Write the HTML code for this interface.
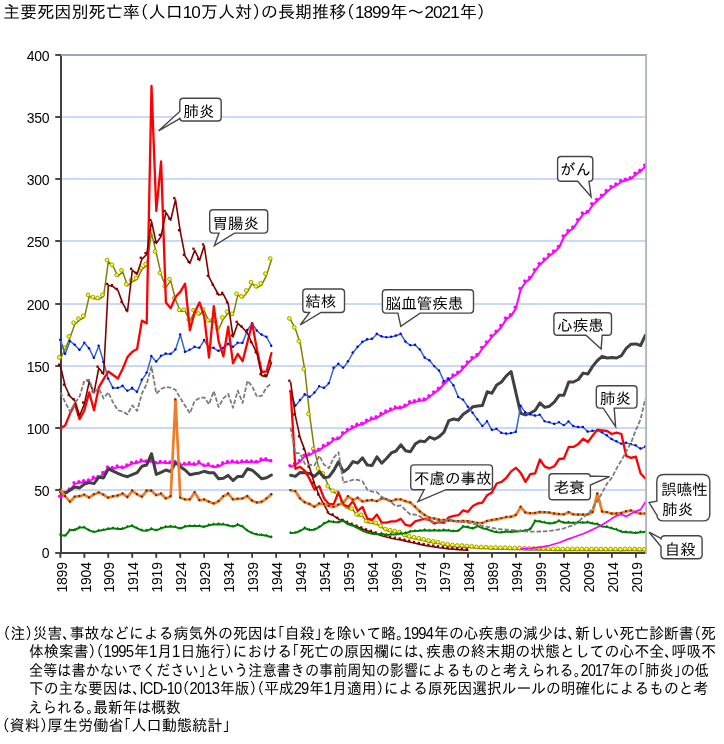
<!DOCTYPE html><html lang="ja"><head><meta charset="utf-8"><title>主要死因別死亡率の長期推移</title>
<style>html,body{margin:0;padding:0;background:#fff}
#wrap{position:relative;width:724px;height:744px;overflow:hidden;background:#fff;font-family:"Liberation Sans","IPAGothic","Noto Sans CJK JP",sans-serif;color:#000}
.o{margin-left:-0.5em}.c{margin-right:-0.5em}.d{letter-spacing:-0.055em;margin-right:0.055em}
.t{position:absolute;font-size:17px;line-height:20px;white-space:nowrap;transform-origin:0 0}
.n{position:absolute;font-size:15px;line-height:18px;white-space:nowrap;transform-origin:0 0}
</style></head><body><div id="wrap">
<svg width="724" height="744" viewBox="0 0 724 744" style="position:absolute;left:0;top:0">
<rect width="724" height="744" fill="#fff"/>
<line x1="61" y1="490.0" x2="646" y2="490.0" stroke="#c9d9fb" stroke-width="2"/>
<line x1="61" y1="428.0" x2="646" y2="428.0" stroke="#c9d9fb" stroke-width="2"/>
<line x1="61" y1="366.0" x2="646" y2="366.0" stroke="#c9d9fb" stroke-width="2"/>
<line x1="61" y1="304.0" x2="646" y2="304.0" stroke="#c9d9fb" stroke-width="2"/>
<line x1="61" y1="241.0" x2="646" y2="241.0" stroke="#c9d9fb" stroke-width="2"/>
<line x1="61" y1="179.0" x2="646" y2="179.0" stroke="#c9d9fb" stroke-width="2"/>
<line x1="61" y1="117.0" x2="646" y2="117.0" stroke="#c9d9fb" stroke-width="2"/>
<line x1="61" y1="54.0" x2="61" y2="554.0" stroke="#404040" stroke-width="2"/>
<line x1="60" y1="553" x2="646.5" y2="553" stroke="#404040" stroke-width="2"/>
<line x1="55.4" y1="553.0" x2="61" y2="553.0" stroke="#404040" stroke-width="1.6"/>
<line x1="55.4" y1="490.0" x2="61" y2="490.0" stroke="#404040" stroke-width="1.6"/>
<line x1="55.4" y1="428.0" x2="61" y2="428.0" stroke="#404040" stroke-width="1.6"/>
<line x1="55.4" y1="366.0" x2="61" y2="366.0" stroke="#404040" stroke-width="1.6"/>
<line x1="55.4" y1="304.0" x2="61" y2="304.0" stroke="#404040" stroke-width="1.6"/>
<line x1="55.4" y1="241.0" x2="61" y2="241.0" stroke="#404040" stroke-width="1.6"/>
<line x1="55.4" y1="179.0" x2="61" y2="179.0" stroke="#404040" stroke-width="1.6"/>
<line x1="55.4" y1="117.0" x2="61" y2="117.0" stroke="#404040" stroke-width="1.6"/>
<line x1="55.4" y1="55.0" x2="61" y2="55.0" stroke="#404040" stroke-width="1.6"/>
<line x1="60.4" y1="553.0" x2="60.4" y2="557.6" stroke="#404040" stroke-width="1.6"/>
<line x1="84.4" y1="553.0" x2="84.4" y2="557.6" stroke="#404040" stroke-width="1.6"/>
<line x1="108.3" y1="553.0" x2="108.3" y2="557.6" stroke="#404040" stroke-width="1.6"/>
<line x1="132.3" y1="553.0" x2="132.3" y2="557.6" stroke="#404040" stroke-width="1.6"/>
<line x1="156.3" y1="553.0" x2="156.3" y2="557.6" stroke="#404040" stroke-width="1.6"/>
<line x1="180.3" y1="553.0" x2="180.3" y2="557.6" stroke="#404040" stroke-width="1.6"/>
<line x1="204.2" y1="553.0" x2="204.2" y2="557.6" stroke="#404040" stroke-width="1.6"/>
<line x1="228.2" y1="553.0" x2="228.2" y2="557.6" stroke="#404040" stroke-width="1.6"/>
<line x1="252.2" y1="553.0" x2="252.2" y2="557.6" stroke="#404040" stroke-width="1.6"/>
<line x1="276.2" y1="553.0" x2="276.2" y2="557.6" stroke="#404040" stroke-width="1.6"/>
<line x1="300.1" y1="553.0" x2="300.1" y2="557.6" stroke="#404040" stroke-width="1.6"/>
<line x1="324.1" y1="553.0" x2="324.1" y2="557.6" stroke="#404040" stroke-width="1.6"/>
<line x1="348.1" y1="553.0" x2="348.1" y2="557.6" stroke="#404040" stroke-width="1.6"/>
<line x1="372.1" y1="553.0" x2="372.1" y2="557.6" stroke="#404040" stroke-width="1.6"/>
<line x1="396.0" y1="553.0" x2="396.0" y2="557.6" stroke="#404040" stroke-width="1.6"/>
<line x1="420.0" y1="553.0" x2="420.0" y2="557.6" stroke="#404040" stroke-width="1.6"/>
<line x1="444.0" y1="553.0" x2="444.0" y2="557.6" stroke="#404040" stroke-width="1.6"/>
<line x1="468.0" y1="553.0" x2="468.0" y2="557.6" stroke="#404040" stroke-width="1.6"/>
<line x1="491.9" y1="553.0" x2="491.9" y2="557.6" stroke="#404040" stroke-width="1.6"/>
<line x1="515.9" y1="553.0" x2="515.9" y2="557.6" stroke="#404040" stroke-width="1.6"/>
<line x1="539.9" y1="553.0" x2="539.9" y2="557.6" stroke="#404040" stroke-width="1.6"/>
<line x1="563.9" y1="553.0" x2="563.9" y2="557.6" stroke="#404040" stroke-width="1.6"/>
<line x1="587.9" y1="553.0" x2="587.9" y2="557.6" stroke="#404040" stroke-width="1.6"/>
<line x1="611.8" y1="553.0" x2="611.8" y2="557.6" stroke="#404040" stroke-width="1.6"/>
<line x1="635.8" y1="553.0" x2="635.8" y2="557.6" stroke="#404040" stroke-width="1.6"/>
<line x1="61" y1="54.0" x2="61" y2="554.0" stroke="#404040" stroke-width="2"/>
<line x1="60" y1="553" x2="646.5" y2="553" stroke="#404040" stroke-width="2"/>
<line x1="55.4" y1="553.0" x2="61" y2="553.0" stroke="#404040" stroke-width="1.6"/>
<line x1="55.4" y1="490.0" x2="61" y2="490.0" stroke="#404040" stroke-width="1.6"/>
<line x1="55.4" y1="428.0" x2="61" y2="428.0" stroke="#404040" stroke-width="1.6"/>
<line x1="55.4" y1="366.0" x2="61" y2="366.0" stroke="#404040" stroke-width="1.6"/>
<line x1="55.4" y1="304.0" x2="61" y2="304.0" stroke="#404040" stroke-width="1.6"/>
<line x1="55.4" y1="241.0" x2="61" y2="241.0" stroke="#404040" stroke-width="1.6"/>
<line x1="55.4" y1="179.0" x2="61" y2="179.0" stroke="#404040" stroke-width="1.6"/>
<line x1="55.4" y1="117.0" x2="61" y2="117.0" stroke="#404040" stroke-width="1.6"/>
<line x1="55.4" y1="55.0" x2="61" y2="55.0" stroke="#404040" stroke-width="1.6"/>
<line x1="60.4" y1="553.0" x2="60.4" y2="557.6" stroke="#404040" stroke-width="1.6"/>
<line x1="84.4" y1="553.0" x2="84.4" y2="557.6" stroke="#404040" stroke-width="1.6"/>
<line x1="108.3" y1="553.0" x2="108.3" y2="557.6" stroke="#404040" stroke-width="1.6"/>
<line x1="132.3" y1="553.0" x2="132.3" y2="557.6" stroke="#404040" stroke-width="1.6"/>
<line x1="156.3" y1="553.0" x2="156.3" y2="557.6" stroke="#404040" stroke-width="1.6"/>
<line x1="180.3" y1="553.0" x2="180.3" y2="557.6" stroke="#404040" stroke-width="1.6"/>
<line x1="204.2" y1="553.0" x2="204.2" y2="557.6" stroke="#404040" stroke-width="1.6"/>
<line x1="228.2" y1="553.0" x2="228.2" y2="557.6" stroke="#404040" stroke-width="1.6"/>
<line x1="252.2" y1="553.0" x2="252.2" y2="557.6" stroke="#404040" stroke-width="1.6"/>
<line x1="276.2" y1="553.0" x2="276.2" y2="557.6" stroke="#404040" stroke-width="1.6"/>
<line x1="300.1" y1="553.0" x2="300.1" y2="557.6" stroke="#404040" stroke-width="1.6"/>
<line x1="324.1" y1="553.0" x2="324.1" y2="557.6" stroke="#404040" stroke-width="1.6"/>
<line x1="348.1" y1="553.0" x2="348.1" y2="557.6" stroke="#404040" stroke-width="1.6"/>
<line x1="372.1" y1="553.0" x2="372.1" y2="557.6" stroke="#404040" stroke-width="1.6"/>
<line x1="396.0" y1="553.0" x2="396.0" y2="557.6" stroke="#404040" stroke-width="1.6"/>
<line x1="420.0" y1="553.0" x2="420.0" y2="557.6" stroke="#404040" stroke-width="1.6"/>
<line x1="444.0" y1="553.0" x2="444.0" y2="557.6" stroke="#404040" stroke-width="1.6"/>
<line x1="468.0" y1="553.0" x2="468.0" y2="557.6" stroke="#404040" stroke-width="1.6"/>
<line x1="491.9" y1="553.0" x2="491.9" y2="557.6" stroke="#404040" stroke-width="1.6"/>
<line x1="515.9" y1="553.0" x2="515.9" y2="557.6" stroke="#404040" stroke-width="1.6"/>
<line x1="539.9" y1="553.0" x2="539.9" y2="557.6" stroke="#404040" stroke-width="1.6"/>
<line x1="563.9" y1="553.0" x2="563.9" y2="557.6" stroke="#404040" stroke-width="1.6"/>
<line x1="587.9" y1="553.0" x2="587.9" y2="557.6" stroke="#404040" stroke-width="1.6"/>
<line x1="611.8" y1="553.0" x2="611.8" y2="557.6" stroke="#404040" stroke-width="1.6"/>
<line x1="635.8" y1="553.0" x2="635.8" y2="557.6" stroke="#404040" stroke-width="1.6"/>
<polyline points="60.4,358.9 65.2,349.0 70.0,337.8 74.8,324.2 79.6,320.1 84.4,317.4 89.2,296.4 94.0,298.6 98.8,299.4 103.6,296.3 108.3,261.6 113.1,266.3 117.9,276.4 122.7,271.8 127.5,285.7 132.3,281.7 137.1,279.4 141.9,269.4 146.7,265.6 151.5,232.9 156.3,253.0 161.1,274.4 165.9,287.7 170.7,280.6 175.5,299.5 180.3,311.3 185.1,311.2 189.9,321.1 194.7,311.7 199.5,314.9 204.2,310.6 209.0,321.8 213.8,321.0 218.6,329.5 223.4,318.9 228.2,313.2 233.0,315.3 237.8,295.2 242.6,297.9 247.4,291.9 252.2,283.6 257.0,287.8 261.8,284.8 266.6,275.1 271.4,260.0" fill="none" stroke="#808000" stroke-width="1.5" stroke-linejoin="round" stroke-linecap="round" />
<circle cx="59.2" cy="357.4" r="1.9" fill="#ffff00" stroke="#8c8c00" stroke-width="0.8"/><circle cx="64.0" cy="347.5" r="1.9" fill="#ffff00" stroke="#8c8c00" stroke-width="0.8"/><circle cx="68.8" cy="336.3" r="1.9" fill="#ffff00" stroke="#8c8c00" stroke-width="0.8"/><circle cx="73.6" cy="322.7" r="1.9" fill="#ffff00" stroke="#8c8c00" stroke-width="0.8"/><circle cx="78.4" cy="318.6" r="1.9" fill="#ffff00" stroke="#8c8c00" stroke-width="0.8"/><circle cx="83.2" cy="315.9" r="1.9" fill="#ffff00" stroke="#8c8c00" stroke-width="0.8"/><circle cx="88.0" cy="294.9" r="1.9" fill="#ffff00" stroke="#8c8c00" stroke-width="0.8"/><circle cx="92.8" cy="297.1" r="1.9" fill="#ffff00" stroke="#8c8c00" stroke-width="0.8"/><circle cx="97.6" cy="297.9" r="1.9" fill="#ffff00" stroke="#8c8c00" stroke-width="0.8"/><circle cx="102.4" cy="294.8" r="1.9" fill="#ffff00" stroke="#8c8c00" stroke-width="0.8"/><circle cx="107.1" cy="260.1" r="1.9" fill="#ffff00" stroke="#8c8c00" stroke-width="0.8"/><circle cx="111.9" cy="264.8" r="1.9" fill="#ffff00" stroke="#8c8c00" stroke-width="0.8"/><circle cx="116.7" cy="274.9" r="1.9" fill="#ffff00" stroke="#8c8c00" stroke-width="0.8"/><circle cx="121.5" cy="270.3" r="1.9" fill="#ffff00" stroke="#8c8c00" stroke-width="0.8"/><circle cx="126.3" cy="284.2" r="1.9" fill="#ffff00" stroke="#8c8c00" stroke-width="0.8"/><circle cx="131.1" cy="280.2" r="1.9" fill="#ffff00" stroke="#8c8c00" stroke-width="0.8"/><circle cx="135.9" cy="277.9" r="1.9" fill="#ffff00" stroke="#8c8c00" stroke-width="0.8"/><circle cx="140.7" cy="267.9" r="1.9" fill="#ffff00" stroke="#8c8c00" stroke-width="0.8"/><circle cx="145.5" cy="264.1" r="1.9" fill="#ffff00" stroke="#8c8c00" stroke-width="0.8"/><circle cx="150.3" cy="231.4" r="1.9" fill="#ffff00" stroke="#8c8c00" stroke-width="0.8"/><circle cx="155.1" cy="251.5" r="1.9" fill="#ffff00" stroke="#8c8c00" stroke-width="0.8"/><circle cx="159.9" cy="272.9" r="1.9" fill="#ffff00" stroke="#8c8c00" stroke-width="0.8"/><circle cx="164.7" cy="286.2" r="1.9" fill="#ffff00" stroke="#8c8c00" stroke-width="0.8"/><circle cx="169.5" cy="279.1" r="1.9" fill="#ffff00" stroke="#8c8c00" stroke-width="0.8"/><circle cx="174.3" cy="298.0" r="1.9" fill="#ffff00" stroke="#8c8c00" stroke-width="0.8"/><circle cx="179.1" cy="309.8" r="1.9" fill="#ffff00" stroke="#8c8c00" stroke-width="0.8"/><circle cx="183.9" cy="309.7" r="1.9" fill="#ffff00" stroke="#8c8c00" stroke-width="0.8"/><circle cx="188.7" cy="319.6" r="1.9" fill="#ffff00" stroke="#8c8c00" stroke-width="0.8"/><circle cx="193.5" cy="310.2" r="1.9" fill="#ffff00" stroke="#8c8c00" stroke-width="0.8"/><circle cx="198.3" cy="313.4" r="1.9" fill="#ffff00" stroke="#8c8c00" stroke-width="0.8"/><circle cx="203.1" cy="309.1" r="1.9" fill="#ffff00" stroke="#8c8c00" stroke-width="0.8"/><circle cx="207.8" cy="320.3" r="1.9" fill="#ffff00" stroke="#8c8c00" stroke-width="0.8"/><circle cx="212.6" cy="319.5" r="1.9" fill="#ffff00" stroke="#8c8c00" stroke-width="0.8"/><circle cx="217.4" cy="328.0" r="1.9" fill="#ffff00" stroke="#8c8c00" stroke-width="0.8"/><circle cx="222.2" cy="317.4" r="1.9" fill="#ffff00" stroke="#8c8c00" stroke-width="0.8"/><circle cx="227.0" cy="311.7" r="1.9" fill="#ffff00" stroke="#8c8c00" stroke-width="0.8"/><circle cx="231.8" cy="313.8" r="1.9" fill="#ffff00" stroke="#8c8c00" stroke-width="0.8"/><circle cx="236.6" cy="293.7" r="1.9" fill="#ffff00" stroke="#8c8c00" stroke-width="0.8"/><circle cx="241.4" cy="296.4" r="1.9" fill="#ffff00" stroke="#8c8c00" stroke-width="0.8"/><circle cx="246.2" cy="290.4" r="1.9" fill="#ffff00" stroke="#8c8c00" stroke-width="0.8"/><circle cx="251.0" cy="282.1" r="1.9" fill="#ffff00" stroke="#8c8c00" stroke-width="0.8"/><circle cx="255.8" cy="286.3" r="1.9" fill="#ffff00" stroke="#8c8c00" stroke-width="0.8"/><circle cx="260.6" cy="283.3" r="1.9" fill="#ffff00" stroke="#8c8c00" stroke-width="0.8"/><circle cx="265.4" cy="273.6" r="1.9" fill="#ffff00" stroke="#8c8c00" stroke-width="0.8"/><circle cx="270.2" cy="258.5" r="1.9" fill="#ffff00" stroke="#8c8c00" stroke-width="0.8"/>
<polyline points="290.6,319.9 295.4,328.9 300.1,342.7 304.9,370.6 309.7,415.5 314.5,450.4 319.3,469.9 324.1,475.0 328.9,487.6 333.7,492.2 338.5,494.3 343.3,503.6 348.1,508.5 352.9,510.1 357.7,515.8 362.5,516.2 367.3,522.5 372.1,523.3 376.9,524.3 381.7,527.4 386.5,530.5 391.3,531.7 396.0,532.6 400.8,533.5 405.6,536.4 410.4,537.8 415.2,538.8 420.0,539.7 424.8,540.8 429.6,542.0 434.4,542.9 439.2,543.6 444.0,545.1 448.8,545.8 453.6,546.5 458.4,547.0 463.2,547.0 468.0,547.5 472.8,547.8 477.6,548.4 482.4,548.5 487.2,548.6 491.9,549.0 496.7,548.9 501.5,549.2 506.3,549.2 511.1,549.4 515.9,549.5 520.7,549.4 525.5,549.7 530.3,549.9 535.1,549.9 539.9,549.7 544.7,550.0 549.5,550.1 554.3,550.4 559.1,550.2 563.9,550.4 568.7,550.4 573.5,550.4 578.3,550.5 583.1,550.4 587.9,550.5 592.6,550.5 597.4,550.5 602.2,550.5 607.0,550.5 611.8,550.5 616.6,550.6 621.4,550.7 626.2,550.4 631.0,550.4 635.8,550.5 640.6,550.7 645.4,550.7" fill="none" stroke="#808000" stroke-width="1.5" stroke-linejoin="round" stroke-linecap="round" />
<circle cx="289.4" cy="318.4" r="1.9" fill="#ffff00" stroke="#8c8c00" stroke-width="0.8"/><circle cx="294.2" cy="327.4" r="1.9" fill="#ffff00" stroke="#8c8c00" stroke-width="0.8"/><circle cx="298.9" cy="341.2" r="1.9" fill="#ffff00" stroke="#8c8c00" stroke-width="0.8"/><circle cx="303.7" cy="369.1" r="1.9" fill="#ffff00" stroke="#8c8c00" stroke-width="0.8"/><circle cx="308.5" cy="414.0" r="1.9" fill="#ffff00" stroke="#8c8c00" stroke-width="0.8"/><circle cx="313.3" cy="448.9" r="1.9" fill="#ffff00" stroke="#8c8c00" stroke-width="0.8"/><circle cx="318.1" cy="468.4" r="1.9" fill="#ffff00" stroke="#8c8c00" stroke-width="0.8"/><circle cx="322.9" cy="473.5" r="1.9" fill="#ffff00" stroke="#8c8c00" stroke-width="0.8"/><circle cx="327.7" cy="486.1" r="1.9" fill="#ffff00" stroke="#8c8c00" stroke-width="0.8"/><circle cx="332.5" cy="490.7" r="1.9" fill="#ffff00" stroke="#8c8c00" stroke-width="0.8"/><circle cx="337.3" cy="492.8" r="1.9" fill="#ffff00" stroke="#8c8c00" stroke-width="0.8"/><circle cx="342.1" cy="502.1" r="1.9" fill="#ffff00" stroke="#8c8c00" stroke-width="0.8"/><circle cx="346.9" cy="507.0" r="1.9" fill="#ffff00" stroke="#8c8c00" stroke-width="0.8"/><circle cx="351.7" cy="508.6" r="1.9" fill="#ffff00" stroke="#8c8c00" stroke-width="0.8"/><circle cx="356.5" cy="514.3" r="1.9" fill="#ffff00" stroke="#8c8c00" stroke-width="0.8"/><circle cx="361.3" cy="514.7" r="1.9" fill="#ffff00" stroke="#8c8c00" stroke-width="0.8"/><circle cx="366.1" cy="521.0" r="1.9" fill="#ffff00" stroke="#8c8c00" stroke-width="0.8"/><circle cx="370.9" cy="521.8" r="1.9" fill="#ffff00" stroke="#8c8c00" stroke-width="0.8"/><circle cx="375.7" cy="522.8" r="1.9" fill="#ffff00" stroke="#8c8c00" stroke-width="0.8"/><circle cx="380.5" cy="525.9" r="1.9" fill="#ffff00" stroke="#8c8c00" stroke-width="0.8"/><circle cx="385.3" cy="529.0" r="1.9" fill="#ffff00" stroke="#8c8c00" stroke-width="0.8"/><circle cx="390.1" cy="530.2" r="1.9" fill="#ffff00" stroke="#8c8c00" stroke-width="0.8"/><circle cx="394.8" cy="531.1" r="1.9" fill="#ffff00" stroke="#8c8c00" stroke-width="0.8"/><circle cx="399.6" cy="532.0" r="1.9" fill="#ffff00" stroke="#8c8c00" stroke-width="0.8"/><circle cx="404.4" cy="534.9" r="1.9" fill="#ffff00" stroke="#8c8c00" stroke-width="0.8"/><circle cx="409.2" cy="536.3" r="1.9" fill="#ffff00" stroke="#8c8c00" stroke-width="0.8"/><circle cx="414.0" cy="537.3" r="1.9" fill="#ffff00" stroke="#8c8c00" stroke-width="0.8"/><circle cx="418.8" cy="538.2" r="1.9" fill="#ffff00" stroke="#8c8c00" stroke-width="0.8"/><circle cx="423.6" cy="539.3" r="1.9" fill="#ffff00" stroke="#8c8c00" stroke-width="0.8"/><circle cx="428.4" cy="540.5" r="1.9" fill="#ffff00" stroke="#8c8c00" stroke-width="0.8"/><circle cx="433.2" cy="541.4" r="1.9" fill="#ffff00" stroke="#8c8c00" stroke-width="0.8"/><circle cx="438.0" cy="542.1" r="1.9" fill="#ffff00" stroke="#8c8c00" stroke-width="0.8"/><circle cx="442.8" cy="543.6" r="1.9" fill="#ffff00" stroke="#8c8c00" stroke-width="0.8"/><circle cx="447.6" cy="544.3" r="1.9" fill="#ffff00" stroke="#8c8c00" stroke-width="0.8"/><circle cx="452.4" cy="545.0" r="1.9" fill="#ffff00" stroke="#8c8c00" stroke-width="0.8"/><circle cx="457.2" cy="545.5" r="1.9" fill="#ffff00" stroke="#8c8c00" stroke-width="0.8"/><circle cx="462.0" cy="545.5" r="1.9" fill="#ffff00" stroke="#8c8c00" stroke-width="0.8"/><circle cx="466.8" cy="546.0" r="1.9" fill="#ffff00" stroke="#8c8c00" stroke-width="0.8"/><circle cx="471.6" cy="546.3" r="1.9" fill="#ffff00" stroke="#8c8c00" stroke-width="0.8"/><circle cx="476.4" cy="546.9" r="1.9" fill="#ffff00" stroke="#8c8c00" stroke-width="0.8"/><circle cx="481.2" cy="547.0" r="1.9" fill="#ffff00" stroke="#8c8c00" stroke-width="0.8"/><circle cx="486.0" cy="547.1" r="1.9" fill="#ffff00" stroke="#8c8c00" stroke-width="0.8"/><circle cx="490.8" cy="547.5" r="1.9" fill="#ffff00" stroke="#8c8c00" stroke-width="0.8"/><circle cx="495.5" cy="547.4" r="1.9" fill="#ffff00" stroke="#8c8c00" stroke-width="0.8"/><circle cx="500.3" cy="547.7" r="1.9" fill="#ffff00" stroke="#8c8c00" stroke-width="0.8"/><circle cx="505.1" cy="547.7" r="1.9" fill="#ffff00" stroke="#8c8c00" stroke-width="0.8"/><circle cx="509.9" cy="547.9" r="1.9" fill="#ffff00" stroke="#8c8c00" stroke-width="0.8"/><circle cx="514.7" cy="548.0" r="1.9" fill="#ffff00" stroke="#8c8c00" stroke-width="0.8"/><circle cx="519.5" cy="547.9" r="1.9" fill="#ffff00" stroke="#8c8c00" stroke-width="0.8"/><circle cx="524.3" cy="548.2" r="1.9" fill="#ffff00" stroke="#8c8c00" stroke-width="0.8"/><circle cx="529.1" cy="548.4" r="1.9" fill="#ffff00" stroke="#8c8c00" stroke-width="0.8"/><circle cx="533.9" cy="548.4" r="1.9" fill="#ffff00" stroke="#8c8c00" stroke-width="0.8"/><circle cx="538.7" cy="548.2" r="1.9" fill="#ffff00" stroke="#8c8c00" stroke-width="0.8"/><circle cx="543.5" cy="548.5" r="1.9" fill="#ffff00" stroke="#8c8c00" stroke-width="0.8"/><circle cx="548.3" cy="548.6" r="1.9" fill="#ffff00" stroke="#8c8c00" stroke-width="0.8"/><circle cx="553.1" cy="548.9" r="1.9" fill="#ffff00" stroke="#8c8c00" stroke-width="0.8"/><circle cx="557.9" cy="548.7" r="1.9" fill="#ffff00" stroke="#8c8c00" stroke-width="0.8"/><circle cx="562.7" cy="548.9" r="1.9" fill="#ffff00" stroke="#8c8c00" stroke-width="0.8"/><circle cx="567.5" cy="548.9" r="1.9" fill="#ffff00" stroke="#8c8c00" stroke-width="0.8"/><circle cx="572.3" cy="548.9" r="1.9" fill="#ffff00" stroke="#8c8c00" stroke-width="0.8"/><circle cx="577.1" cy="549.0" r="1.9" fill="#ffff00" stroke="#8c8c00" stroke-width="0.8"/><circle cx="581.9" cy="548.9" r="1.9" fill="#ffff00" stroke="#8c8c00" stroke-width="0.8"/><circle cx="586.6" cy="549.0" r="1.9" fill="#ffff00" stroke="#8c8c00" stroke-width="0.8"/><circle cx="591.4" cy="549.0" r="1.9" fill="#ffff00" stroke="#8c8c00" stroke-width="0.8"/><circle cx="596.2" cy="549.0" r="1.9" fill="#ffff00" stroke="#8c8c00" stroke-width="0.8"/><circle cx="601.0" cy="549.0" r="1.9" fill="#ffff00" stroke="#8c8c00" stroke-width="0.8"/><circle cx="605.8" cy="549.0" r="1.9" fill="#ffff00" stroke="#8c8c00" stroke-width="0.8"/><circle cx="610.6" cy="549.0" r="1.9" fill="#ffff00" stroke="#8c8c00" stroke-width="0.8"/><circle cx="615.4" cy="549.1" r="1.9" fill="#ffff00" stroke="#8c8c00" stroke-width="0.8"/><circle cx="620.2" cy="549.2" r="1.9" fill="#ffff00" stroke="#8c8c00" stroke-width="0.8"/><circle cx="625.0" cy="548.9" r="1.9" fill="#ffff00" stroke="#8c8c00" stroke-width="0.8"/><circle cx="629.8" cy="548.9" r="1.9" fill="#ffff00" stroke="#8c8c00" stroke-width="0.8"/><circle cx="634.6" cy="549.0" r="1.9" fill="#ffff00" stroke="#8c8c00" stroke-width="0.8"/><circle cx="639.4" cy="549.2" r="1.9" fill="#ffff00" stroke="#8c8c00" stroke-width="0.8"/><circle cx="644.2" cy="549.2" r="1.9" fill="#ffff00" stroke="#8c8c00" stroke-width="0.8"/>
<polyline points="60.4,497.4 65.2,493.6 70.0,490.1 74.8,483.9 79.6,482.8 84.4,481.9 89.2,481.1 94.0,478.4 98.8,477.7 103.6,473.6 108.3,468.0 113.1,468.7 117.9,467.1 122.7,468.0 127.5,466.0 132.3,463.5 137.1,462.9 141.9,461.1 146.7,462.1 151.5,461.6 156.3,463.5 161.1,462.5 165.9,462.9 170.7,463.2 175.5,462.5 180.3,464.9 185.1,464.6 189.9,463.9 194.7,464.9 199.5,462.9 204.2,466.0 209.0,465.2 213.8,467.3 218.6,466.6 223.4,463.9 228.2,462.7 233.0,462.1 237.8,462.9 242.6,462.1 247.4,462.1 252.2,462.1 257.0,462.5 261.8,460.1 266.6,459.8 271.4,461.5" fill="none" stroke="#ff00ff" stroke-width="2.0" stroke-linejoin="round" stroke-linecap="round" />
<circle cx="59.6" cy="496.2" r="1.65" fill="#ff00ff"/><circle cx="64.4" cy="492.4" r="1.65" fill="#ff00ff"/><circle cx="69.2" cy="488.9" r="1.65" fill="#ff00ff"/><circle cx="74.0" cy="482.7" r="1.65" fill="#ff00ff"/><circle cx="78.8" cy="481.6" r="1.65" fill="#ff00ff"/><circle cx="83.6" cy="480.7" r="1.65" fill="#ff00ff"/><circle cx="88.4" cy="479.9" r="1.65" fill="#ff00ff"/><circle cx="93.2" cy="477.2" r="1.65" fill="#ff00ff"/><circle cx="98.0" cy="476.5" r="1.65" fill="#ff00ff"/><circle cx="102.8" cy="472.4" r="1.65" fill="#ff00ff"/><circle cx="107.5" cy="466.8" r="1.65" fill="#ff00ff"/><circle cx="112.3" cy="467.5" r="1.65" fill="#ff00ff"/><circle cx="117.1" cy="465.9" r="1.65" fill="#ff00ff"/><circle cx="121.9" cy="466.8" r="1.65" fill="#ff00ff"/><circle cx="126.7" cy="464.8" r="1.65" fill="#ff00ff"/><circle cx="131.5" cy="462.3" r="1.65" fill="#ff00ff"/><circle cx="136.3" cy="461.7" r="1.65" fill="#ff00ff"/><circle cx="141.1" cy="459.9" r="1.65" fill="#ff00ff"/><circle cx="145.9" cy="460.9" r="1.65" fill="#ff00ff"/><circle cx="150.7" cy="460.4" r="1.65" fill="#ff00ff"/><circle cx="155.5" cy="462.3" r="1.65" fill="#ff00ff"/><circle cx="160.3" cy="461.3" r="1.65" fill="#ff00ff"/><circle cx="165.1" cy="461.7" r="1.65" fill="#ff00ff"/><circle cx="169.9" cy="462.0" r="1.65" fill="#ff00ff"/><circle cx="174.7" cy="461.3" r="1.65" fill="#ff00ff"/><circle cx="179.5" cy="463.7" r="1.65" fill="#ff00ff"/><circle cx="184.3" cy="463.4" r="1.65" fill="#ff00ff"/><circle cx="189.1" cy="462.7" r="1.65" fill="#ff00ff"/><circle cx="193.9" cy="463.7" r="1.65" fill="#ff00ff"/><circle cx="198.7" cy="461.7" r="1.65" fill="#ff00ff"/><circle cx="203.4" cy="464.8" r="1.65" fill="#ff00ff"/><circle cx="208.2" cy="464.0" r="1.65" fill="#ff00ff"/><circle cx="213.0" cy="466.1" r="1.65" fill="#ff00ff"/><circle cx="217.8" cy="465.4" r="1.65" fill="#ff00ff"/><circle cx="222.6" cy="462.7" r="1.65" fill="#ff00ff"/><circle cx="227.4" cy="461.5" r="1.65" fill="#ff00ff"/><circle cx="232.2" cy="460.9" r="1.65" fill="#ff00ff"/><circle cx="237.0" cy="461.7" r="1.65" fill="#ff00ff"/><circle cx="241.8" cy="460.9" r="1.65" fill="#ff00ff"/><circle cx="246.6" cy="460.9" r="1.65" fill="#ff00ff"/><circle cx="251.4" cy="460.9" r="1.65" fill="#ff00ff"/><circle cx="256.2" cy="461.3" r="1.65" fill="#ff00ff"/><circle cx="261.0" cy="458.9" r="1.65" fill="#ff00ff"/><circle cx="265.8" cy="458.6" r="1.65" fill="#ff00ff"/><circle cx="270.6" cy="460.3" r="1.65" fill="#ff00ff"/>
<polyline points="290.6,466.8 295.4,464.6 300.1,461.6 304.9,456.4 309.7,455.0 314.5,452.0 319.3,450.4 324.1,446.6 328.9,444.3 333.7,439.8 338.5,439.1 343.3,433.9 348.1,430.5 352.9,427.8 357.7,425.4 362.5,424.3 367.3,421.4 372.1,419.2 376.9,417.8 381.7,414.7 386.5,412.1 391.3,410.1 396.0,408.1 400.8,408.0 405.6,406.3 410.4,402.9 415.2,401.9 420.0,400.7 424.8,400.2 429.6,396.8 434.4,393.0 439.2,389.4 444.0,383.9 448.8,379.7 453.6,376.1 458.4,373.3 463.2,368.2 468.0,363.0 472.8,358.5 477.6,355.6 482.4,348.5 487.2,343.2 491.9,336.8 496.7,332.3 501.5,326.7 506.3,319.1 511.1,315.9 515.9,308.4 520.7,289.5 525.5,282.2 530.3,278.6 535.1,270.8 539.9,264.7 544.7,260.2 549.5,255.7 554.3,252.1 559.1,247.5 563.9,237.0 568.7,231.5 573.5,228.1 578.3,220.8 583.1,214.1 587.9,212.6 592.6,204.9 597.4,200.5 602.2,196.3 607.0,191.7 611.8,187.7 616.6,185.2 621.4,181.8 626.2,180.3 631.0,178.8 635.8,174.4 640.6,171.4 645.4,166.3" fill="none" stroke="#ff00ff" stroke-width="2.0" stroke-linejoin="round" stroke-linecap="round" />
<circle cx="289.8" cy="465.6" r="1.65" fill="#ff00ff"/><circle cx="294.6" cy="463.4" r="1.65" fill="#ff00ff"/><circle cx="299.3" cy="460.4" r="1.65" fill="#ff00ff"/><circle cx="304.1" cy="455.2" r="1.65" fill="#ff00ff"/><circle cx="308.9" cy="453.8" r="1.65" fill="#ff00ff"/><circle cx="313.7" cy="450.8" r="1.65" fill="#ff00ff"/><circle cx="318.5" cy="449.2" r="1.65" fill="#ff00ff"/><circle cx="323.3" cy="445.4" r="1.65" fill="#ff00ff"/><circle cx="328.1" cy="443.1" r="1.65" fill="#ff00ff"/><circle cx="332.9" cy="438.6" r="1.65" fill="#ff00ff"/><circle cx="337.7" cy="437.9" r="1.65" fill="#ff00ff"/><circle cx="342.5" cy="432.7" r="1.65" fill="#ff00ff"/><circle cx="347.3" cy="429.3" r="1.65" fill="#ff00ff"/><circle cx="352.1" cy="426.6" r="1.65" fill="#ff00ff"/><circle cx="356.9" cy="424.2" r="1.65" fill="#ff00ff"/><circle cx="361.7" cy="423.1" r="1.65" fill="#ff00ff"/><circle cx="366.5" cy="420.2" r="1.65" fill="#ff00ff"/><circle cx="371.3" cy="418.0" r="1.65" fill="#ff00ff"/><circle cx="376.1" cy="416.6" r="1.65" fill="#ff00ff"/><circle cx="380.9" cy="413.5" r="1.65" fill="#ff00ff"/><circle cx="385.7" cy="410.9" r="1.65" fill="#ff00ff"/><circle cx="390.5" cy="408.9" r="1.65" fill="#ff00ff"/><circle cx="395.2" cy="406.9" r="1.65" fill="#ff00ff"/><circle cx="400.0" cy="406.8" r="1.65" fill="#ff00ff"/><circle cx="404.8" cy="405.1" r="1.65" fill="#ff00ff"/><circle cx="409.6" cy="401.7" r="1.65" fill="#ff00ff"/><circle cx="414.4" cy="400.7" r="1.65" fill="#ff00ff"/><circle cx="419.2" cy="399.5" r="1.65" fill="#ff00ff"/><circle cx="424.0" cy="399.0" r="1.65" fill="#ff00ff"/><circle cx="428.8" cy="395.6" r="1.65" fill="#ff00ff"/><circle cx="433.6" cy="391.8" r="1.65" fill="#ff00ff"/><circle cx="438.4" cy="388.2" r="1.65" fill="#ff00ff"/><circle cx="443.2" cy="382.7" r="1.65" fill="#ff00ff"/><circle cx="448.0" cy="378.5" r="1.65" fill="#ff00ff"/><circle cx="452.8" cy="374.9" r="1.65" fill="#ff00ff"/><circle cx="457.6" cy="372.1" r="1.65" fill="#ff00ff"/><circle cx="462.4" cy="367.0" r="1.65" fill="#ff00ff"/><circle cx="467.2" cy="361.8" r="1.65" fill="#ff00ff"/><circle cx="472.0" cy="357.3" r="1.65" fill="#ff00ff"/><circle cx="476.8" cy="354.4" r="1.65" fill="#ff00ff"/><circle cx="481.6" cy="347.3" r="1.65" fill="#ff00ff"/><circle cx="486.4" cy="342.0" r="1.65" fill="#ff00ff"/><circle cx="491.1" cy="335.6" r="1.65" fill="#ff00ff"/><circle cx="495.9" cy="331.1" r="1.65" fill="#ff00ff"/><circle cx="500.7" cy="325.5" r="1.65" fill="#ff00ff"/><circle cx="505.5" cy="317.9" r="1.65" fill="#ff00ff"/><circle cx="510.3" cy="314.7" r="1.65" fill="#ff00ff"/><circle cx="515.1" cy="307.2" r="1.65" fill="#ff00ff"/><circle cx="519.9" cy="288.3" r="1.65" fill="#ff00ff"/><circle cx="524.7" cy="281.0" r="1.65" fill="#ff00ff"/><circle cx="529.5" cy="277.4" r="1.65" fill="#ff00ff"/><circle cx="534.3" cy="269.6" r="1.65" fill="#ff00ff"/><circle cx="539.1" cy="263.5" r="1.65" fill="#ff00ff"/><circle cx="543.9" cy="259.0" r="1.65" fill="#ff00ff"/><circle cx="548.7" cy="254.5" r="1.65" fill="#ff00ff"/><circle cx="553.5" cy="250.9" r="1.65" fill="#ff00ff"/><circle cx="558.3" cy="246.3" r="1.65" fill="#ff00ff"/><circle cx="563.1" cy="235.8" r="1.65" fill="#ff00ff"/><circle cx="567.9" cy="230.3" r="1.65" fill="#ff00ff"/><circle cx="572.7" cy="226.9" r="1.65" fill="#ff00ff"/><circle cx="577.5" cy="219.6" r="1.65" fill="#ff00ff"/><circle cx="582.3" cy="212.9" r="1.65" fill="#ff00ff"/><circle cx="587.1" cy="211.4" r="1.65" fill="#ff00ff"/><circle cx="591.8" cy="203.7" r="1.65" fill="#ff00ff"/><circle cx="596.6" cy="199.3" r="1.65" fill="#ff00ff"/><circle cx="601.4" cy="195.1" r="1.65" fill="#ff00ff"/><circle cx="606.2" cy="190.5" r="1.65" fill="#ff00ff"/><circle cx="611.0" cy="186.5" r="1.65" fill="#ff00ff"/><circle cx="615.8" cy="184.0" r="1.65" fill="#ff00ff"/><circle cx="620.6" cy="180.6" r="1.65" fill="#ff00ff"/><circle cx="625.4" cy="179.1" r="1.65" fill="#ff00ff"/><circle cx="630.2" cy="177.6" r="1.65" fill="#ff00ff"/><circle cx="635.0" cy="173.2" r="1.65" fill="#ff00ff"/><circle cx="639.8" cy="170.2" r="1.65" fill="#ff00ff"/><circle cx="644.6" cy="165.1" r="1.65" fill="#ff00ff"/>
<polyline points="60.4,492.1 65.2,493.1 70.0,490.3 74.8,487.1 79.6,487.9 84.4,484.1 89.2,482.6 94.0,483.6 98.8,477.2 103.6,477.9 108.3,468.8 113.1,471.2 117.9,473.4 122.7,475.4 127.5,476.7 132.3,474.7 137.1,472.6 141.9,466.3 146.7,465.0 151.5,453.7 156.3,474.4 161.1,472.3 165.9,470.0 170.7,471.6 175.5,462.6 180.3,466.7 185.1,470.0 189.9,474.7 194.7,473.7 199.5,472.9 204.2,471.3 209.0,472.7 213.8,472.7 218.6,478.8 223.4,478.3 228.2,475.4 233.0,480.6 237.8,476.4 242.6,476.4 247.4,468.8 252.2,470.2 257.0,474.4 261.8,478.8 266.6,477.8 271.4,475.0" fill="none" stroke="#404040" stroke-width="3.0" stroke-linejoin="round" stroke-linecap="round" />
<polyline points="290.6,475.3 295.4,476.4 300.1,472.4 304.9,472.8 309.7,473.5 314.5,476.4 319.3,471.8 324.1,477.8 328.9,476.9 333.7,470.5 338.5,461.7 343.3,472.0 348.1,468.4 352.9,461.6 357.7,463.0 362.5,457.9 367.3,465.1 372.1,465.5 376.9,456.9 381.7,463.2 386.5,458.5 391.3,452.9 396.0,451.0 400.8,444.8 405.6,450.7 410.4,451.7 415.2,444.1 420.0,441.0 424.8,441.7 429.6,437.0 434.4,439.2 439.2,436.6 444.0,432.1 448.8,420.6 453.6,419.0 458.4,420.0 463.2,414.2 468.0,411.0 472.8,406.8 477.6,406.0 482.4,405.4 487.2,391.7 491.9,393.3 496.7,385.0 501.5,382.0 506.3,375.8 511.1,371.6 515.9,392.7 520.7,413.4 525.5,414.9 530.3,413.1 535.1,410.5 539.9,402.9 544.7,407.4 549.5,406.2 554.3,402.2 559.1,395.3 563.9,395.3 568.7,382.0 573.5,382.0 578.3,379.5 583.1,373.1 587.9,374.0 592.6,366.4 597.4,360.5 602.2,356.3 607.0,358.0 611.8,357.4 616.6,358.0 621.4,355.7 626.2,348.3 631.0,344.2 635.8,343.9 640.6,345.5 645.4,335.2" fill="none" stroke="#404040" stroke-width="3.0" stroke-linejoin="round" stroke-linecap="round" />
<polyline points="60.4,340.0 65.2,354.0 70.0,341.2 74.8,344.9 79.6,350.1 84.4,342.9 89.2,348.6 94.0,358.1 98.8,345.9 103.6,362.3 108.3,378.9 113.1,388.1 117.9,388.1 122.7,386.0 127.5,390.9 132.3,388.1 137.1,392.0 141.9,380.1 146.7,372.9 151.5,356.3 156.3,361.7 161.1,356.0 165.9,353.8 170.7,354.1 175.5,349.7 180.3,334.7 185.1,352.0 189.9,349.9 194.7,346.9 199.5,347.9 204.2,340.2 209.0,348.0 213.8,348.1 218.6,351.1 223.4,348.1 228.2,344.0 233.0,347.0 237.8,342.9 242.6,343.0 247.4,330.2 252.2,323.5 257.0,330.8 261.8,334.8 266.6,337.1 271.4,346.0" fill="none" stroke="#3068c8" stroke-width="1.5" stroke-linejoin="round" stroke-linecap="round" />
<circle cx="60.2" cy="339.7" r="1.2" fill="#0000ff"/><circle cx="65.0" cy="353.7" r="1.2" fill="#0000ff"/><circle cx="69.8" cy="340.9" r="1.2" fill="#0000ff"/><circle cx="74.6" cy="344.6" r="1.2" fill="#0000ff"/><circle cx="79.4" cy="349.8" r="1.2" fill="#0000ff"/><circle cx="84.2" cy="342.6" r="1.2" fill="#0000ff"/><circle cx="89.0" cy="348.3" r="1.2" fill="#0000ff"/><circle cx="93.8" cy="357.8" r="1.2" fill="#0000ff"/><circle cx="98.6" cy="345.6" r="1.2" fill="#0000ff"/><circle cx="103.4" cy="362.0" r="1.2" fill="#0000ff"/><circle cx="108.1" cy="378.6" r="1.2" fill="#0000ff"/><circle cx="112.9" cy="387.8" r="1.2" fill="#0000ff"/><circle cx="117.7" cy="387.8" r="1.2" fill="#0000ff"/><circle cx="122.5" cy="385.7" r="1.2" fill="#0000ff"/><circle cx="127.3" cy="390.6" r="1.2" fill="#0000ff"/><circle cx="132.1" cy="387.8" r="1.2" fill="#0000ff"/><circle cx="136.9" cy="391.7" r="1.2" fill="#0000ff"/><circle cx="141.7" cy="379.8" r="1.2" fill="#0000ff"/><circle cx="146.5" cy="372.6" r="1.2" fill="#0000ff"/><circle cx="151.3" cy="356.0" r="1.2" fill="#0000ff"/><circle cx="156.1" cy="361.4" r="1.2" fill="#0000ff"/><circle cx="160.9" cy="355.7" r="1.2" fill="#0000ff"/><circle cx="165.7" cy="353.5" r="1.2" fill="#0000ff"/><circle cx="170.5" cy="353.8" r="1.2" fill="#0000ff"/><circle cx="175.3" cy="349.4" r="1.2" fill="#0000ff"/><circle cx="180.1" cy="334.4" r="1.2" fill="#0000ff"/><circle cx="184.9" cy="351.7" r="1.2" fill="#0000ff"/><circle cx="189.7" cy="349.6" r="1.2" fill="#0000ff"/><circle cx="194.5" cy="346.6" r="1.2" fill="#0000ff"/><circle cx="199.3" cy="347.6" r="1.2" fill="#0000ff"/><circle cx="204.1" cy="339.9" r="1.2" fill="#0000ff"/><circle cx="208.8" cy="347.7" r="1.2" fill="#0000ff"/><circle cx="213.6" cy="347.8" r="1.2" fill="#0000ff"/><circle cx="218.4" cy="350.8" r="1.2" fill="#0000ff"/><circle cx="223.2" cy="347.8" r="1.2" fill="#0000ff"/><circle cx="228.0" cy="343.7" r="1.2" fill="#0000ff"/><circle cx="232.8" cy="346.7" r="1.2" fill="#0000ff"/><circle cx="237.6" cy="342.6" r="1.2" fill="#0000ff"/><circle cx="242.4" cy="342.7" r="1.2" fill="#0000ff"/><circle cx="247.2" cy="329.9" r="1.2" fill="#0000ff"/><circle cx="252.0" cy="323.2" r="1.2" fill="#0000ff"/><circle cx="256.8" cy="330.5" r="1.2" fill="#0000ff"/><circle cx="261.6" cy="334.5" r="1.2" fill="#0000ff"/><circle cx="266.4" cy="336.8" r="1.2" fill="#0000ff"/><circle cx="271.2" cy="345.7" r="1.2" fill="#0000ff"/>
<polyline points="290.6,391.7 295.4,406.0 300.1,400.2 304.9,394.6 309.7,397.0 314.5,392.8 319.3,386.4 324.1,388.0 328.9,383.4 333.7,368.1 338.5,364.0 343.3,367.9 348.1,361.5 352.9,352.8 357.7,347.0 362.5,342.0 367.3,339.5 372.1,339.1 376.9,334.0 381.7,336.5 386.5,337.4 391.3,336.9 396.0,335.8 400.8,334.0 405.6,341.8 410.4,345.4 415.2,345.1 420.0,349.7 424.8,357.8 429.6,360.5 434.4,366.4 439.2,370.8 444.0,381.4 448.8,379.2 453.6,385.6 458.4,397.2 463.2,399.9 468.0,406.9 472.8,413.1 477.6,419.7 482.4,426.2 487.2,421.4 491.9,430.1 496.7,429.0 501.5,433.0 506.3,433.8 511.1,433.3 515.9,432.1 520.7,406.0 525.5,412.6 530.3,414.6 535.1,415.8 539.9,414.9 544.7,421.4 549.5,422.4 554.3,424.1 559.1,422.4 563.9,425.4 568.7,421.7 573.5,426.2 578.3,427.3 583.1,427.2 587.9,431.8 592.6,431.1 597.4,430.5 602.2,432.6 607.0,435.6 611.8,439.3 616.6,441.5 621.4,443.9 626.2,442.9 631.0,444.3 635.8,445.6 640.6,448.8 645.4,446.7" fill="none" stroke="#3068c8" stroke-width="1.5" stroke-linejoin="round" stroke-linecap="round" />
<circle cx="290.4" cy="391.4" r="1.2" fill="#0000ff"/><circle cx="295.2" cy="405.7" r="1.2" fill="#0000ff"/><circle cx="299.9" cy="399.9" r="1.2" fill="#0000ff"/><circle cx="304.7" cy="394.3" r="1.2" fill="#0000ff"/><circle cx="309.5" cy="396.7" r="1.2" fill="#0000ff"/><circle cx="314.3" cy="392.5" r="1.2" fill="#0000ff"/><circle cx="319.1" cy="386.1" r="1.2" fill="#0000ff"/><circle cx="323.9" cy="387.7" r="1.2" fill="#0000ff"/><circle cx="328.7" cy="383.1" r="1.2" fill="#0000ff"/><circle cx="333.5" cy="367.8" r="1.2" fill="#0000ff"/><circle cx="338.3" cy="363.7" r="1.2" fill="#0000ff"/><circle cx="343.1" cy="367.6" r="1.2" fill="#0000ff"/><circle cx="347.9" cy="361.2" r="1.2" fill="#0000ff"/><circle cx="352.7" cy="352.5" r="1.2" fill="#0000ff"/><circle cx="357.5" cy="346.7" r="1.2" fill="#0000ff"/><circle cx="362.3" cy="341.7" r="1.2" fill="#0000ff"/><circle cx="367.1" cy="339.2" r="1.2" fill="#0000ff"/><circle cx="371.9" cy="338.8" r="1.2" fill="#0000ff"/><circle cx="376.7" cy="333.7" r="1.2" fill="#0000ff"/><circle cx="381.5" cy="336.2" r="1.2" fill="#0000ff"/><circle cx="386.3" cy="337.1" r="1.2" fill="#0000ff"/><circle cx="391.1" cy="336.6" r="1.2" fill="#0000ff"/><circle cx="395.8" cy="335.5" r="1.2" fill="#0000ff"/><circle cx="400.6" cy="333.7" r="1.2" fill="#0000ff"/><circle cx="405.4" cy="341.5" r="1.2" fill="#0000ff"/><circle cx="410.2" cy="345.1" r="1.2" fill="#0000ff"/><circle cx="415.0" cy="344.8" r="1.2" fill="#0000ff"/><circle cx="419.8" cy="349.4" r="1.2" fill="#0000ff"/><circle cx="424.6" cy="357.5" r="1.2" fill="#0000ff"/><circle cx="429.4" cy="360.2" r="1.2" fill="#0000ff"/><circle cx="434.2" cy="366.1" r="1.2" fill="#0000ff"/><circle cx="439.0" cy="370.5" r="1.2" fill="#0000ff"/><circle cx="443.8" cy="381.1" r="1.2" fill="#0000ff"/><circle cx="448.6" cy="378.9" r="1.2" fill="#0000ff"/><circle cx="453.4" cy="385.3" r="1.2" fill="#0000ff"/><circle cx="458.2" cy="396.9" r="1.2" fill="#0000ff"/><circle cx="463.0" cy="399.6" r="1.2" fill="#0000ff"/><circle cx="467.8" cy="406.6" r="1.2" fill="#0000ff"/><circle cx="472.6" cy="412.8" r="1.2" fill="#0000ff"/><circle cx="477.4" cy="419.4" r="1.2" fill="#0000ff"/><circle cx="482.2" cy="425.9" r="1.2" fill="#0000ff"/><circle cx="487.0" cy="421.1" r="1.2" fill="#0000ff"/><circle cx="491.8" cy="429.8" r="1.2" fill="#0000ff"/><circle cx="496.5" cy="428.7" r="1.2" fill="#0000ff"/><circle cx="501.3" cy="432.7" r="1.2" fill="#0000ff"/><circle cx="506.1" cy="433.5" r="1.2" fill="#0000ff"/><circle cx="510.9" cy="433.0" r="1.2" fill="#0000ff"/><circle cx="515.7" cy="431.8" r="1.2" fill="#0000ff"/><circle cx="520.5" cy="405.7" r="1.2" fill="#0000ff"/><circle cx="525.3" cy="412.3" r="1.2" fill="#0000ff"/><circle cx="530.1" cy="414.3" r="1.2" fill="#0000ff"/><circle cx="534.9" cy="415.5" r="1.2" fill="#0000ff"/><circle cx="539.7" cy="414.6" r="1.2" fill="#0000ff"/><circle cx="544.5" cy="421.1" r="1.2" fill="#0000ff"/><circle cx="549.3" cy="422.1" r="1.2" fill="#0000ff"/><circle cx="554.1" cy="423.8" r="1.2" fill="#0000ff"/><circle cx="558.9" cy="422.1" r="1.2" fill="#0000ff"/><circle cx="563.7" cy="425.1" r="1.2" fill="#0000ff"/><circle cx="568.5" cy="421.4" r="1.2" fill="#0000ff"/><circle cx="573.3" cy="425.9" r="1.2" fill="#0000ff"/><circle cx="578.1" cy="427.0" r="1.2" fill="#0000ff"/><circle cx="582.9" cy="426.9" r="1.2" fill="#0000ff"/><circle cx="587.6" cy="431.5" r="1.2" fill="#0000ff"/><circle cx="592.4" cy="430.8" r="1.2" fill="#0000ff"/><circle cx="597.2" cy="430.2" r="1.2" fill="#0000ff"/><circle cx="602.0" cy="432.3" r="1.2" fill="#0000ff"/><circle cx="606.8" cy="435.3" r="1.2" fill="#0000ff"/><circle cx="611.6" cy="439.0" r="1.2" fill="#0000ff"/><circle cx="616.4" cy="441.2" r="1.2" fill="#0000ff"/><circle cx="621.2" cy="443.6" r="1.2" fill="#0000ff"/><circle cx="626.0" cy="442.6" r="1.2" fill="#0000ff"/><circle cx="630.8" cy="444.0" r="1.2" fill="#0000ff"/><circle cx="635.6" cy="445.3" r="1.2" fill="#0000ff"/><circle cx="640.4" cy="448.5" r="1.2" fill="#0000ff"/><circle cx="645.2" cy="446.4" r="1.2" fill="#0000ff"/>
<polyline points="60.4,428.2 65.2,425.4 70.0,413.6 74.8,403.9 79.6,419.2 84.4,410.2 89.2,392.3 94.0,410.2 98.8,387.4 103.6,379.1 108.3,371.5 113.1,375.0 117.9,378.5 122.7,368.8 127.5,357.1 132.3,351.7 137.1,349.0 141.9,320.6 146.7,323.4 151.5,85.8 156.3,211.0 161.1,161.3 165.9,302.6 170.7,308.2 175.5,297.1 180.3,291.8 185.1,283.7 189.9,330.3 194.7,312.3 199.5,302.4 204.2,316.3 209.0,357.7 213.8,306.1 218.6,341.2 223.4,356.4 228.2,326.6 233.0,363.3 237.8,353.8 242.6,361.2 247.4,342.4 252.2,323.5 257.0,349.9 261.8,372.0 266.6,371.4 271.4,353.2" fill="none" stroke="#ff0000" stroke-width="2.3" stroke-linejoin="round" stroke-linecap="round" />
<polyline points="290.6,390.8 295.4,468.8 300.1,466.8 304.9,470.9 309.7,479.2 314.5,489.6 319.3,486.1 324.1,498.5 328.9,504.1 333.7,504.1 338.5,492.3 343.3,504.8 348.1,506.9 352.9,501.3 357.7,511.0 362.5,506.9 367.3,518.6 372.1,519.9 376.9,514.5 381.7,522.7 386.5,522.7 391.3,521.3 396.0,521.3 400.8,518.9 405.6,524.9 410.4,525.9 415.2,521.4 420.0,520.0 424.8,518.9 429.6,520.0 434.4,523.5 439.2,522.1 444.0,522.8 448.8,517.3 453.6,515.9 458.4,515.2 463.2,510.3 468.0,511.8 472.8,506.0 477.6,503.5 482.4,502.7 487.2,495.2 491.9,492.4 496.7,483.5 501.5,481.9 506.3,477.8 511.1,471.4 515.9,467.8 520.7,472.9 525.5,481.9 530.3,474.2 535.1,473.3 539.9,459.5 544.7,466.6 549.5,468.3 554.3,466.3 559.1,459.0 563.9,458.5 568.7,446.9 573.5,446.9 578.3,443.9 583.1,438.7 587.9,442.0 592.6,435.6 597.4,429.6 602.2,430.3 607.0,431.0 611.8,434.0 616.6,432.6 621.4,434.0 626.2,456.0 631.0,457.9 635.8,456.6 640.6,473.5 645.4,478.5" fill="none" stroke="#ff0000" stroke-width="2.3" stroke-linejoin="round" stroke-linecap="round" />
<polyline points="60.4,366.0 65.2,386.0 70.0,396.4 74.8,400.6 79.6,415.7 84.4,403.9 89.2,381.9 94.0,392.9 98.8,368.0 103.6,374.2 108.3,285.3 113.1,286.6 117.9,290.3 122.7,303.4 127.5,311.6 132.3,270.2 137.1,274.3 141.9,259.1 146.7,254.5 151.5,221.3 156.3,243.4 161.1,236.2 165.9,212.4 170.7,220.2 175.5,199.6 180.3,231.6 185.1,256.1 189.9,263.3 194.7,250.2 199.5,260.5 204.2,245.8 209.0,277.1 213.8,286.1 218.6,295.0 223.4,294.3 228.2,303.7 233.0,336.9 237.8,323.3 242.6,327.7 247.4,333.0 252.2,343.5 257.0,353.7 261.8,375.6 266.6,376.6 271.4,362.8" fill="none" stroke="#800000" stroke-width="1.6" stroke-linejoin="round" stroke-linecap="round" />
<rect x="58.0" y="363.5" width="2.3" height="2.3" fill="#800000"/><rect x="62.8" y="383.5" width="2.3" height="2.3" fill="#800000"/><rect x="67.6" y="393.8" width="2.3" height="2.3" fill="#800000"/><rect x="72.4" y="398.0" width="2.3" height="2.3" fill="#800000"/><rect x="77.2" y="413.2" width="2.3" height="2.3" fill="#800000"/><rect x="82.0" y="401.4" width="2.3" height="2.3" fill="#800000"/><rect x="86.8" y="379.4" width="2.3" height="2.3" fill="#800000"/><rect x="91.6" y="390.3" width="2.3" height="2.3" fill="#800000"/><rect x="96.4" y="365.5" width="2.3" height="2.3" fill="#800000"/><rect x="101.2" y="371.7" width="2.3" height="2.3" fill="#800000"/><rect x="106.0" y="282.8" width="2.3" height="2.3" fill="#800000"/><rect x="110.8" y="284.0" width="2.3" height="2.3" fill="#800000"/><rect x="115.6" y="287.8" width="2.3" height="2.3" fill="#800000"/><rect x="120.4" y="300.8" width="2.3" height="2.3" fill="#800000"/><rect x="125.2" y="309.0" width="2.3" height="2.3" fill="#800000"/><rect x="130.0" y="267.6" width="2.3" height="2.3" fill="#800000"/><rect x="134.8" y="271.7" width="2.3" height="2.3" fill="#800000"/><rect x="139.6" y="256.6" width="2.3" height="2.3" fill="#800000"/><rect x="144.4" y="252.0" width="2.3" height="2.3" fill="#800000"/><rect x="149.2" y="218.8" width="2.3" height="2.3" fill="#800000"/><rect x="154.0" y="240.9" width="2.3" height="2.3" fill="#800000"/><rect x="158.7" y="233.7" width="2.3" height="2.3" fill="#800000"/><rect x="163.5" y="209.8" width="2.3" height="2.3" fill="#800000"/><rect x="168.3" y="217.6" width="2.3" height="2.3" fill="#800000"/><rect x="173.1" y="197.0" width="2.3" height="2.3" fill="#800000"/><rect x="177.9" y="229.1" width="2.3" height="2.3" fill="#800000"/><rect x="182.7" y="253.6" width="2.3" height="2.3" fill="#800000"/><rect x="187.5" y="260.8" width="2.3" height="2.3" fill="#800000"/><rect x="192.3" y="247.6" width="2.3" height="2.3" fill="#800000"/><rect x="197.1" y="257.9" width="2.3" height="2.3" fill="#800000"/><rect x="201.9" y="243.3" width="2.3" height="2.3" fill="#800000"/><rect x="206.7" y="274.6" width="2.3" height="2.3" fill="#800000"/><rect x="211.5" y="283.5" width="2.3" height="2.3" fill="#800000"/><rect x="216.3" y="292.5" width="2.3" height="2.3" fill="#800000"/><rect x="221.1" y="291.7" width="2.3" height="2.3" fill="#800000"/><rect x="225.9" y="301.2" width="2.3" height="2.3" fill="#800000"/><rect x="230.7" y="334.4" width="2.3" height="2.3" fill="#800000"/><rect x="235.5" y="320.7" width="2.3" height="2.3" fill="#800000"/><rect x="240.3" y="325.2" width="2.3" height="2.3" fill="#800000"/><rect x="245.1" y="330.4" width="2.3" height="2.3" fill="#800000"/><rect x="249.9" y="341.0" width="2.3" height="2.3" fill="#800000"/><rect x="254.6" y="351.2" width="2.3" height="2.3" fill="#800000"/><rect x="259.4" y="373.0" width="2.3" height="2.3" fill="#800000"/><rect x="264.2" y="374.0" width="2.3" height="2.3" fill="#800000"/><rect x="269.0" y="360.2" width="2.3" height="2.3" fill="#800000"/>
<polyline points="290.6,382.2 295.4,415.9 300.1,437.6 304.9,450.4 309.7,468.1 314.5,484.0 319.3,495.8 324.1,504.8 328.9,513.7 333.7,515.8 338.5,519.2 343.3,521.3 348.1,523.3 352.9,525.2 357.7,527.0 362.5,528.9 367.3,530.7 372.1,532.2 376.9,533.9 381.7,535.7 386.5,537.0 391.3,538.2 396.0,539.2 400.8,539.9 405.6,541.1 410.4,542.2 415.2,543.3 420.0,544.4 424.8,545.4 429.6,546.2 434.4,546.9 439.2,547.7 444.0,548.3 448.8,548.9 453.6,549.3 458.4,549.6 463.2,550.0 468.0,550.3" fill="none" stroke="#800000" stroke-width="1.6" stroke-linejoin="round" stroke-linecap="round" />
<rect x="288.2" y="379.6" width="2.3" height="2.3" fill="#800000"/><rect x="293.0" y="413.3" width="2.3" height="2.3" fill="#800000"/><rect x="297.8" y="435.1" width="2.3" height="2.3" fill="#800000"/><rect x="302.6" y="447.9" width="2.3" height="2.3" fill="#800000"/><rect x="307.4" y="465.5" width="2.3" height="2.3" fill="#800000"/><rect x="312.2" y="481.5" width="2.3" height="2.3" fill="#800000"/><rect x="317.0" y="493.3" width="2.3" height="2.3" fill="#800000"/><rect x="321.8" y="502.2" width="2.3" height="2.3" fill="#800000"/><rect x="326.6" y="511.2" width="2.3" height="2.3" fill="#800000"/><rect x="331.4" y="513.3" width="2.3" height="2.3" fill="#800000"/><rect x="336.2" y="516.6" width="2.3" height="2.3" fill="#800000"/><rect x="341.0" y="518.7" width="2.3" height="2.3" fill="#800000"/><rect x="345.8" y="520.7" width="2.3" height="2.3" fill="#800000"/><rect x="350.5" y="522.6" width="2.3" height="2.3" fill="#800000"/><rect x="355.3" y="524.5" width="2.3" height="2.3" fill="#800000"/><rect x="360.1" y="526.3" width="2.3" height="2.3" fill="#800000"/><rect x="364.9" y="528.2" width="2.3" height="2.3" fill="#800000"/><rect x="369.7" y="529.7" width="2.3" height="2.3" fill="#800000"/><rect x="374.5" y="531.3" width="2.3" height="2.3" fill="#800000"/><rect x="379.3" y="533.2" width="2.3" height="2.3" fill="#800000"/><rect x="384.1" y="534.4" width="2.3" height="2.3" fill="#800000"/><rect x="388.9" y="535.7" width="2.3" height="2.3" fill="#800000"/><rect x="393.7" y="536.6" width="2.3" height="2.3" fill="#800000"/><rect x="398.5" y="537.4" width="2.3" height="2.3" fill="#800000"/><rect x="403.3" y="538.5" width="2.3" height="2.3" fill="#800000"/><rect x="408.1" y="539.6" width="2.3" height="2.3" fill="#800000"/><rect x="412.9" y="540.8" width="2.3" height="2.3" fill="#800000"/><rect x="417.7" y="541.9" width="2.3" height="2.3" fill="#800000"/><rect x="422.5" y="542.9" width="2.3" height="2.3" fill="#800000"/><rect x="427.3" y="543.6" width="2.3" height="2.3" fill="#800000"/><rect x="432.1" y="544.4" width="2.3" height="2.3" fill="#800000"/><rect x="436.9" y="545.1" width="2.3" height="2.3" fill="#800000"/><rect x="441.7" y="545.7" width="2.3" height="2.3" fill="#800000"/><rect x="446.4" y="546.3" width="2.3" height="2.3" fill="#800000"/><rect x="451.2" y="546.7" width="2.3" height="2.3" fill="#800000"/><rect x="456.0" y="547.1" width="2.3" height="2.3" fill="#800000"/><rect x="460.8" y="547.5" width="2.3" height="2.3" fill="#800000"/><rect x="465.6" y="547.7" width="2.3" height="2.3" fill="#800000"/>
<polyline points="60.4,489.6 65.2,496.4 70.0,501.8 74.8,496.8 79.6,496.2 84.4,494.8 89.2,497.6 94.0,494.4 98.8,492.6 103.6,494.8 108.3,497.8 113.1,496.4 117.9,495.6 122.7,493.7 127.5,497.2 132.3,490.7 137.1,494.4 141.9,496.8 146.7,490.7 151.5,490.7 156.3,495.3 161.1,493.7 165.9,498.5 170.7,496.4 175.5,399.6 180.3,497.8 185.1,499.5 189.9,499.5 194.7,492.3 199.5,500.3 204.2,499.5 209.0,501.8 213.8,503.6 218.6,501.3 223.4,496.4 228.2,493.7 233.0,499.5 237.8,498.9 242.6,498.5 247.4,496.2 252.2,500.7 257.0,502.6 261.8,501.8 266.6,498.5 271.4,494.4" fill="none" stroke="#f07c28" stroke-width="2.7" stroke-linejoin="round" stroke-linecap="round" />
<circle cx="60.2" cy="489.4" r="1.15" fill="#6b2a00"/><circle cx="65.0" cy="496.2" r="1.15" fill="#6b2a00"/><circle cx="69.8" cy="501.6" r="1.15" fill="#6b2a00"/><circle cx="74.6" cy="496.6" r="1.15" fill="#6b2a00"/><circle cx="79.4" cy="496.0" r="1.15" fill="#6b2a00"/><circle cx="84.2" cy="494.6" r="1.15" fill="#6b2a00"/><circle cx="89.0" cy="497.4" r="1.15" fill="#6b2a00"/><circle cx="93.8" cy="494.2" r="1.15" fill="#6b2a00"/><circle cx="98.6" cy="492.4" r="1.15" fill="#6b2a00"/><circle cx="103.4" cy="494.6" r="1.15" fill="#6b2a00"/><circle cx="108.1" cy="497.6" r="1.15" fill="#6b2a00"/><circle cx="112.9" cy="496.2" r="1.15" fill="#6b2a00"/><circle cx="117.7" cy="495.4" r="1.15" fill="#6b2a00"/><circle cx="122.5" cy="493.5" r="1.15" fill="#6b2a00"/><circle cx="127.3" cy="497.0" r="1.15" fill="#6b2a00"/><circle cx="132.1" cy="490.5" r="1.15" fill="#6b2a00"/><circle cx="136.9" cy="494.2" r="1.15" fill="#6b2a00"/><circle cx="141.7" cy="496.6" r="1.15" fill="#6b2a00"/><circle cx="146.5" cy="490.5" r="1.15" fill="#6b2a00"/><circle cx="151.3" cy="490.5" r="1.15" fill="#6b2a00"/><circle cx="156.1" cy="495.1" r="1.15" fill="#6b2a00"/><circle cx="160.9" cy="493.5" r="1.15" fill="#6b2a00"/><circle cx="165.7" cy="498.3" r="1.15" fill="#6b2a00"/><circle cx="170.5" cy="496.2" r="1.15" fill="#6b2a00"/><circle cx="175.3" cy="399.4" r="1.15" fill="#6b2a00"/><circle cx="180.1" cy="497.6" r="1.15" fill="#6b2a00"/><circle cx="184.9" cy="499.3" r="1.15" fill="#6b2a00"/><circle cx="189.7" cy="499.3" r="1.15" fill="#6b2a00"/><circle cx="194.5" cy="492.1" r="1.15" fill="#6b2a00"/><circle cx="199.3" cy="500.1" r="1.15" fill="#6b2a00"/><circle cx="204.1" cy="499.3" r="1.15" fill="#6b2a00"/><circle cx="208.8" cy="501.6" r="1.15" fill="#6b2a00"/><circle cx="213.6" cy="503.4" r="1.15" fill="#6b2a00"/><circle cx="218.4" cy="501.1" r="1.15" fill="#6b2a00"/><circle cx="223.2" cy="496.2" r="1.15" fill="#6b2a00"/><circle cx="228.0" cy="493.5" r="1.15" fill="#6b2a00"/><circle cx="232.8" cy="499.3" r="1.15" fill="#6b2a00"/><circle cx="237.6" cy="498.7" r="1.15" fill="#6b2a00"/><circle cx="242.4" cy="498.3" r="1.15" fill="#6b2a00"/><circle cx="247.2" cy="496.0" r="1.15" fill="#6b2a00"/><circle cx="252.0" cy="500.5" r="1.15" fill="#6b2a00"/><circle cx="256.8" cy="502.4" r="1.15" fill="#6b2a00"/><circle cx="261.6" cy="501.6" r="1.15" fill="#6b2a00"/><circle cx="266.4" cy="498.3" r="1.15" fill="#6b2a00"/><circle cx="271.2" cy="494.2" r="1.15" fill="#6b2a00"/>
<polyline points="290.6,490.3 295.4,491.3 300.1,498.5 304.9,502.4 309.7,504.1 314.5,506.9 319.3,503.6 324.1,504.1 328.9,506.1 333.7,506.9 338.5,504.8 343.3,503.0 348.1,496.4 352.9,499.9 357.7,497.9 362.5,501.5 367.3,500.7 372.1,500.2 376.9,501.3 381.7,498.5 386.5,499.3 391.3,501.3 396.0,499.5 400.8,499.5 405.6,501.3 410.4,502.6 415.2,506.9 420.0,511.7 424.8,515.1 429.6,517.9 434.4,518.6 439.2,519.9 444.0,520.2 448.8,520.7 453.6,521.0 458.4,521.3 463.2,521.0 468.0,521.3 472.8,522.0 477.6,523.0 482.4,523.0 487.2,521.0 491.9,520.2 496.7,519.3 501.5,518.3 506.3,517.2 511.1,516.9 515.9,515.1 520.7,506.9 525.5,512.7 530.3,513.3 535.1,513.1 539.9,512.1 544.7,512.3 549.5,512.7 554.3,513.7 559.1,514.2 563.9,514.5 568.7,512.3 573.5,514.5 578.3,514.7 583.1,514.7 587.9,514.5 592.6,512.3 597.4,493.7 602.2,511.7 607.0,512.3 611.8,513.7 616.6,513.7 621.4,513.1 626.2,511.4 631.0,510.6 635.8,512.3 640.6,513.7 645.4,513.7" fill="none" stroke="#f07c28" stroke-width="2.7" stroke-linejoin="round" stroke-linecap="round" />
<circle cx="290.4" cy="490.1" r="1.15" fill="#6b2a00"/><circle cx="295.2" cy="491.1" r="1.15" fill="#6b2a00"/><circle cx="299.9" cy="498.3" r="1.15" fill="#6b2a00"/><circle cx="304.7" cy="502.2" r="1.15" fill="#6b2a00"/><circle cx="309.5" cy="503.9" r="1.15" fill="#6b2a00"/><circle cx="314.3" cy="506.7" r="1.15" fill="#6b2a00"/><circle cx="319.1" cy="503.4" r="1.15" fill="#6b2a00"/><circle cx="323.9" cy="503.9" r="1.15" fill="#6b2a00"/><circle cx="328.7" cy="505.9" r="1.15" fill="#6b2a00"/><circle cx="333.5" cy="506.7" r="1.15" fill="#6b2a00"/><circle cx="338.3" cy="504.6" r="1.15" fill="#6b2a00"/><circle cx="343.1" cy="502.8" r="1.15" fill="#6b2a00"/><circle cx="347.9" cy="496.2" r="1.15" fill="#6b2a00"/><circle cx="352.7" cy="499.7" r="1.15" fill="#6b2a00"/><circle cx="357.5" cy="497.7" r="1.15" fill="#6b2a00"/><circle cx="362.3" cy="501.3" r="1.15" fill="#6b2a00"/><circle cx="367.1" cy="500.5" r="1.15" fill="#6b2a00"/><circle cx="371.9" cy="500.0" r="1.15" fill="#6b2a00"/><circle cx="376.7" cy="501.1" r="1.15" fill="#6b2a00"/><circle cx="381.5" cy="498.3" r="1.15" fill="#6b2a00"/><circle cx="386.3" cy="499.1" r="1.15" fill="#6b2a00"/><circle cx="391.1" cy="501.1" r="1.15" fill="#6b2a00"/><circle cx="395.8" cy="499.3" r="1.15" fill="#6b2a00"/><circle cx="400.6" cy="499.3" r="1.15" fill="#6b2a00"/><circle cx="405.4" cy="501.1" r="1.15" fill="#6b2a00"/><circle cx="410.2" cy="502.4" r="1.15" fill="#6b2a00"/><circle cx="415.0" cy="506.7" r="1.15" fill="#6b2a00"/><circle cx="419.8" cy="511.5" r="1.15" fill="#6b2a00"/><circle cx="424.6" cy="514.9" r="1.15" fill="#6b2a00"/><circle cx="429.4" cy="517.7" r="1.15" fill="#6b2a00"/><circle cx="434.2" cy="518.4" r="1.15" fill="#6b2a00"/><circle cx="439.0" cy="519.7" r="1.15" fill="#6b2a00"/><circle cx="443.8" cy="520.0" r="1.15" fill="#6b2a00"/><circle cx="448.6" cy="520.5" r="1.15" fill="#6b2a00"/><circle cx="453.4" cy="520.8" r="1.15" fill="#6b2a00"/><circle cx="458.2" cy="521.1" r="1.15" fill="#6b2a00"/><circle cx="463.0" cy="520.8" r="1.15" fill="#6b2a00"/><circle cx="467.8" cy="521.1" r="1.15" fill="#6b2a00"/><circle cx="472.6" cy="521.8" r="1.15" fill="#6b2a00"/><circle cx="477.4" cy="522.8" r="1.15" fill="#6b2a00"/><circle cx="482.2" cy="522.8" r="1.15" fill="#6b2a00"/><circle cx="487.0" cy="520.8" r="1.15" fill="#6b2a00"/><circle cx="491.8" cy="520.0" r="1.15" fill="#6b2a00"/><circle cx="496.5" cy="519.1" r="1.15" fill="#6b2a00"/><circle cx="501.3" cy="518.1" r="1.15" fill="#6b2a00"/><circle cx="506.1" cy="517.0" r="1.15" fill="#6b2a00"/><circle cx="510.9" cy="516.7" r="1.15" fill="#6b2a00"/><circle cx="515.7" cy="514.9" r="1.15" fill="#6b2a00"/><circle cx="520.5" cy="506.7" r="1.15" fill="#6b2a00"/><circle cx="525.3" cy="512.5" r="1.15" fill="#6b2a00"/><circle cx="530.1" cy="513.1" r="1.15" fill="#6b2a00"/><circle cx="534.9" cy="512.9" r="1.15" fill="#6b2a00"/><circle cx="539.7" cy="511.9" r="1.15" fill="#6b2a00"/><circle cx="544.5" cy="512.1" r="1.15" fill="#6b2a00"/><circle cx="549.3" cy="512.5" r="1.15" fill="#6b2a00"/><circle cx="554.1" cy="513.5" r="1.15" fill="#6b2a00"/><circle cx="558.9" cy="514.0" r="1.15" fill="#6b2a00"/><circle cx="563.7" cy="514.3" r="1.15" fill="#6b2a00"/><circle cx="568.5" cy="512.1" r="1.15" fill="#6b2a00"/><circle cx="573.3" cy="514.3" r="1.15" fill="#6b2a00"/><circle cx="578.1" cy="514.5" r="1.15" fill="#6b2a00"/><circle cx="582.9" cy="514.5" r="1.15" fill="#6b2a00"/><circle cx="587.6" cy="514.3" r="1.15" fill="#6b2a00"/><circle cx="592.4" cy="512.1" r="1.15" fill="#6b2a00"/><circle cx="597.2" cy="493.5" r="1.15" fill="#6b2a00"/><circle cx="602.0" cy="511.5" r="1.15" fill="#6b2a00"/><circle cx="606.8" cy="512.1" r="1.15" fill="#6b2a00"/><circle cx="611.6" cy="513.5" r="1.15" fill="#6b2a00"/><circle cx="616.4" cy="513.5" r="1.15" fill="#6b2a00"/><circle cx="621.2" cy="512.9" r="1.15" fill="#6b2a00"/><circle cx="626.0" cy="511.2" r="1.15" fill="#6b2a00"/><circle cx="630.8" cy="510.4" r="1.15" fill="#6b2a00"/><circle cx="635.6" cy="512.1" r="1.15" fill="#6b2a00"/><circle cx="640.4" cy="513.5" r="1.15" fill="#6b2a00"/><circle cx="645.2" cy="513.5" r="1.15" fill="#6b2a00"/>
<polyline points="60.4,535.1 65.2,535.8 70.0,530.0 74.8,530.0 79.6,527.5 84.4,527.5 89.2,530.4 94.0,532.1 98.8,530.7 103.6,530.0 108.3,528.9 113.1,528.3 117.9,528.9 122.7,528.9 127.5,526.9 132.3,525.8 137.1,528.3 141.9,530.4 146.7,530.7 151.5,528.9 156.3,530.4 161.1,528.3 165.9,526.9 170.7,526.6 175.5,527.1 180.3,528.5 185.1,526.6 189.9,526.1 194.7,526.1 199.5,526.1 204.2,526.9 209.0,525.2 213.8,524.4 218.6,524.2 223.4,524.4 228.2,525.5 233.0,526.6 237.8,524.7 242.6,526.6 247.4,530.7 252.2,533.1 257.0,534.5 261.8,535.1 266.6,535.8 271.4,537.2" fill="none" stroke="#008000" stroke-width="2.0" stroke-linejoin="round" stroke-linecap="round" />
<path d="M60.2 533.0l1.4 2.0h-2.8z" fill="#007000"/><path d="M65.0 533.7l1.4 2.0h-2.8z" fill="#007000"/><path d="M69.8 527.9l1.4 2.0h-2.8z" fill="#007000"/><path d="M74.6 527.9l1.4 2.0h-2.8z" fill="#007000"/><path d="M79.4 525.4l1.4 2.0h-2.8z" fill="#007000"/><path d="M84.2 525.4l1.4 2.0h-2.8z" fill="#007000"/><path d="M89.0 528.3l1.4 2.0h-2.8z" fill="#007000"/><path d="M93.8 530.0l1.4 2.0h-2.8z" fill="#007000"/><path d="M98.6 528.6l1.4 2.0h-2.8z" fill="#007000"/><path d="M103.4 527.9l1.4 2.0h-2.8z" fill="#007000"/><path d="M108.1 526.8l1.4 2.0h-2.8z" fill="#007000"/><path d="M112.9 526.2l1.4 2.0h-2.8z" fill="#007000"/><path d="M117.7 526.8l1.4 2.0h-2.8z" fill="#007000"/><path d="M122.5 526.8l1.4 2.0h-2.8z" fill="#007000"/><path d="M127.3 524.8l1.4 2.0h-2.8z" fill="#007000"/><path d="M132.1 523.7l1.4 2.0h-2.8z" fill="#007000"/><path d="M136.9 526.2l1.4 2.0h-2.8z" fill="#007000"/><path d="M141.7 528.3l1.4 2.0h-2.8z" fill="#007000"/><path d="M146.5 528.6l1.4 2.0h-2.8z" fill="#007000"/><path d="M151.3 526.8l1.4 2.0h-2.8z" fill="#007000"/><path d="M156.1 528.3l1.4 2.0h-2.8z" fill="#007000"/><path d="M160.9 526.2l1.4 2.0h-2.8z" fill="#007000"/><path d="M165.7 524.8l1.4 2.0h-2.8z" fill="#007000"/><path d="M170.5 524.5l1.4 2.0h-2.8z" fill="#007000"/><path d="M175.3 525.0l1.4 2.0h-2.8z" fill="#007000"/><path d="M180.1 526.4l1.4 2.0h-2.8z" fill="#007000"/><path d="M184.9 524.5l1.4 2.0h-2.8z" fill="#007000"/><path d="M189.7 524.0l1.4 2.0h-2.8z" fill="#007000"/><path d="M194.5 524.0l1.4 2.0h-2.8z" fill="#007000"/><path d="M199.3 524.0l1.4 2.0h-2.8z" fill="#007000"/><path d="M204.1 524.8l1.4 2.0h-2.8z" fill="#007000"/><path d="M208.8 523.1l1.4 2.0h-2.8z" fill="#007000"/><path d="M213.6 522.3l1.4 2.0h-2.8z" fill="#007000"/><path d="M218.4 522.1l1.4 2.0h-2.8z" fill="#007000"/><path d="M223.2 522.3l1.4 2.0h-2.8z" fill="#007000"/><path d="M228.0 523.4l1.4 2.0h-2.8z" fill="#007000"/><path d="M232.8 524.5l1.4 2.0h-2.8z" fill="#007000"/><path d="M237.6 522.6l1.4 2.0h-2.8z" fill="#007000"/><path d="M242.4 524.5l1.4 2.0h-2.8z" fill="#007000"/><path d="M247.2 528.6l1.4 2.0h-2.8z" fill="#007000"/><path d="M252.0 531.0l1.4 2.0h-2.8z" fill="#007000"/><path d="M256.8 532.4l1.4 2.0h-2.8z" fill="#007000"/><path d="M261.6 533.0l1.4 2.0h-2.8z" fill="#007000"/><path d="M266.4 533.7l1.4 2.0h-2.8z" fill="#007000"/><path d="M271.2 535.1l1.4 2.0h-2.8z" fill="#007000"/>
<polyline points="290.6,533.1 295.4,532.8 300.1,531.0 304.9,528.2 309.7,530.0 314.5,529.7 319.3,527.2 324.1,523.5 328.9,521.3 333.7,522.1 338.5,522.4 343.3,520.6 348.1,524.4 352.9,525.7 357.7,528.2 362.5,530.7 367.3,532.6 372.1,533.8 376.9,534.3 381.7,533.7 386.5,534.9 391.3,534.6 396.0,534.6 400.8,533.6 405.6,533.2 410.4,531.5 415.2,531.0 420.0,530.8 424.8,530.2 429.6,530.7 434.4,530.3 439.2,530.7 444.0,530.2 448.8,530.6 453.6,531.3 458.4,530.8 463.2,526.5 468.0,527.2 472.8,528.5 477.6,526.2 482.4,528.2 487.2,529.4 491.9,531.1 496.7,532.2 501.5,532.6 506.3,531.6 511.1,532.0 515.9,531.6 520.7,531.2 525.5,530.5 530.3,529.2 535.1,521.0 539.9,521.5 544.7,522.6 549.5,523.6 554.3,523.0 559.1,520.9 563.9,522.8 568.7,522.5 573.5,523.1 578.3,522.3 583.1,522.8 587.9,522.3 592.6,523.5 597.4,524.1 602.2,526.5 607.0,526.9 611.8,528.4 616.6,529.6 621.4,531.7 626.2,532.2 631.0,532.6 635.8,533.1 640.6,532.2 645.4,532.1" fill="none" stroke="#008000" stroke-width="2.0" stroke-linejoin="round" stroke-linecap="round" />
<path d="M290.4 531.0l1.4 2.0h-2.8z" fill="#007000"/><path d="M295.2 530.7l1.4 2.0h-2.8z" fill="#007000"/><path d="M299.9 528.9l1.4 2.0h-2.8z" fill="#007000"/><path d="M304.7 526.1l1.4 2.0h-2.8z" fill="#007000"/><path d="M309.5 527.9l1.4 2.0h-2.8z" fill="#007000"/><path d="M314.3 527.6l1.4 2.0h-2.8z" fill="#007000"/><path d="M319.1 525.1l1.4 2.0h-2.8z" fill="#007000"/><path d="M323.9 521.4l1.4 2.0h-2.8z" fill="#007000"/><path d="M328.7 519.2l1.4 2.0h-2.8z" fill="#007000"/><path d="M333.5 520.0l1.4 2.0h-2.8z" fill="#007000"/><path d="M338.3 520.3l1.4 2.0h-2.8z" fill="#007000"/><path d="M343.1 518.5l1.4 2.0h-2.8z" fill="#007000"/><path d="M347.9 522.3l1.4 2.0h-2.8z" fill="#007000"/><path d="M352.7 523.6l1.4 2.0h-2.8z" fill="#007000"/><path d="M357.5 526.1l1.4 2.0h-2.8z" fill="#007000"/><path d="M362.3 528.6l1.4 2.0h-2.8z" fill="#007000"/><path d="M367.1 530.5l1.4 2.0h-2.8z" fill="#007000"/><path d="M371.9 531.7l1.4 2.0h-2.8z" fill="#007000"/><path d="M376.7 532.2l1.4 2.0h-2.8z" fill="#007000"/><path d="M381.5 531.6l1.4 2.0h-2.8z" fill="#007000"/><path d="M386.3 532.8l1.4 2.0h-2.8z" fill="#007000"/><path d="M391.1 532.5l1.4 2.0h-2.8z" fill="#007000"/><path d="M395.8 532.5l1.4 2.0h-2.8z" fill="#007000"/><path d="M400.6 531.5l1.4 2.0h-2.8z" fill="#007000"/><path d="M405.4 531.1l1.4 2.0h-2.8z" fill="#007000"/><path d="M410.2 529.4l1.4 2.0h-2.8z" fill="#007000"/><path d="M415.0 528.9l1.4 2.0h-2.8z" fill="#007000"/><path d="M419.8 528.7l1.4 2.0h-2.8z" fill="#007000"/><path d="M424.6 528.1l1.4 2.0h-2.8z" fill="#007000"/><path d="M429.4 528.6l1.4 2.0h-2.8z" fill="#007000"/><path d="M434.2 528.2l1.4 2.0h-2.8z" fill="#007000"/><path d="M439.0 528.6l1.4 2.0h-2.8z" fill="#007000"/><path d="M443.8 528.1l1.4 2.0h-2.8z" fill="#007000"/><path d="M448.6 528.5l1.4 2.0h-2.8z" fill="#007000"/><path d="M453.4 529.2l1.4 2.0h-2.8z" fill="#007000"/><path d="M458.2 528.7l1.4 2.0h-2.8z" fill="#007000"/><path d="M463.0 524.4l1.4 2.0h-2.8z" fill="#007000"/><path d="M467.8 525.1l1.4 2.0h-2.8z" fill="#007000"/><path d="M472.6 526.4l1.4 2.0h-2.8z" fill="#007000"/><path d="M477.4 524.1l1.4 2.0h-2.8z" fill="#007000"/><path d="M482.2 526.1l1.4 2.0h-2.8z" fill="#007000"/><path d="M487.0 527.3l1.4 2.0h-2.8z" fill="#007000"/><path d="M491.8 529.0l1.4 2.0h-2.8z" fill="#007000"/><path d="M496.5 530.1l1.4 2.0h-2.8z" fill="#007000"/><path d="M501.3 530.5l1.4 2.0h-2.8z" fill="#007000"/><path d="M506.1 529.5l1.4 2.0h-2.8z" fill="#007000"/><path d="M510.9 529.9l1.4 2.0h-2.8z" fill="#007000"/><path d="M515.7 529.5l1.4 2.0h-2.8z" fill="#007000"/><path d="M520.5 529.1l1.4 2.0h-2.8z" fill="#007000"/><path d="M525.3 528.4l1.4 2.0h-2.8z" fill="#007000"/><path d="M530.1 527.1l1.4 2.0h-2.8z" fill="#007000"/><path d="M534.9 518.9l1.4 2.0h-2.8z" fill="#007000"/><path d="M539.7 519.4l1.4 2.0h-2.8z" fill="#007000"/><path d="M544.5 520.5l1.4 2.0h-2.8z" fill="#007000"/><path d="M549.3 521.5l1.4 2.0h-2.8z" fill="#007000"/><path d="M554.1 520.9l1.4 2.0h-2.8z" fill="#007000"/><path d="M558.9 518.8l1.4 2.0h-2.8z" fill="#007000"/><path d="M563.7 520.7l1.4 2.0h-2.8z" fill="#007000"/><path d="M568.5 520.4l1.4 2.0h-2.8z" fill="#007000"/><path d="M573.3 521.0l1.4 2.0h-2.8z" fill="#007000"/><path d="M578.1 520.2l1.4 2.0h-2.8z" fill="#007000"/><path d="M582.9 520.7l1.4 2.0h-2.8z" fill="#007000"/><path d="M587.6 520.2l1.4 2.0h-2.8z" fill="#007000"/><path d="M592.4 521.4l1.4 2.0h-2.8z" fill="#007000"/><path d="M597.2 522.0l1.4 2.0h-2.8z" fill="#007000"/><path d="M602.0 524.4l1.4 2.0h-2.8z" fill="#007000"/><path d="M606.8 524.8l1.4 2.0h-2.8z" fill="#007000"/><path d="M611.6 526.3l1.4 2.0h-2.8z" fill="#007000"/><path d="M616.4 527.5l1.4 2.0h-2.8z" fill="#007000"/><path d="M621.2 529.6l1.4 2.0h-2.8z" fill="#007000"/><path d="M626.0 530.1l1.4 2.0h-2.8z" fill="#007000"/><path d="M630.8 530.5l1.4 2.0h-2.8z" fill="#007000"/><path d="M635.6 531.0l1.4 2.0h-2.8z" fill="#007000"/><path d="M640.4 530.1l1.4 2.0h-2.8z" fill="#007000"/><path d="M645.2 530.0l1.4 2.0h-2.8z" fill="#007000"/>
<polyline points="60.4,392.3 65.2,402.1 70.0,411.6 74.8,403.3 79.6,396.4 84.4,380.6 89.2,379.8 94.0,393.0 98.8,388.1 103.6,398.5 108.3,392.3 113.1,402.6 117.9,410.2 122.7,411.6 127.5,414.4 132.3,405.4 137.1,410.9 141.9,393.6 146.7,383.9 151.5,366.5 156.3,393.7 161.1,389.0 165.9,387.0 170.7,387.7 175.5,389.8 180.3,398.1 185.1,405.8 189.9,413.3 194.7,400.8 199.5,398.1 204.2,397.3 209.0,404.3 213.8,391.1 218.6,407.0 223.4,398.3 228.2,393.9 233.0,407.7 237.8,390.6 242.6,402.9 247.4,380.8 252.2,386.3 257.0,396.9 261.8,395.7 266.6,387.4 271.4,383.5" fill="none" stroke="#7c7c7c" stroke-width="1.8" stroke-linejoin="round" stroke-linecap="butt" stroke-dasharray="4.5 1.9"/>
<polyline points="290.6,427.6 295.4,452.9 300.1,453.5 304.9,464.0 309.7,464.7 314.5,465.4 319.3,455.8 324.1,464.7 328.9,468.2 333.7,457.8 338.5,452.3 343.3,482.6 348.1,481.3 352.9,479.9 357.7,479.9 362.5,481.3 367.3,489.6 372.1,491.7 376.9,492.2 381.7,496.8 386.5,499.5 391.3,502.6 396.0,506.1 400.8,505.5 405.6,510.2 410.4,514.5 415.2,514.5 420.0,516.4 424.8,519.3 429.6,519.9 434.4,522.7 439.2,522.7 444.0,520.8 448.8,518.9 453.6,520.8 458.4,522.0 463.2,522.0 468.0,522.7 472.8,523.8 477.6,524.8 482.4,525.8 487.2,526.9 491.9,527.9 496.7,528.6 501.5,529.3 506.3,529.6 511.1,530.0 515.9,530.4 520.7,531.0 525.5,531.4 530.3,531.6 535.1,531.7 539.9,531.5 544.7,531.4 549.5,530.9 554.3,530.4 559.1,529.4 563.9,528.3 568.7,526.6 573.5,525.2 578.3,522.3 583.1,517.0 587.9,514.4 592.6,508.0 597.4,501.1 602.2,492.7 607.0,483.6 611.8,477.9 616.6,468.4 621.4,460.4 626.2,451.5 631.0,442.9 635.8,430.1 640.6,419.2 645.4,398.7" fill="none" stroke="#7c7c7c" stroke-width="1.8" stroke-linejoin="round" stroke-linecap="butt" stroke-dasharray="4.5 1.9"/>
<polyline points="520.7,549.0 525.5,548.6 530.3,548.3 535.1,547.8 539.9,547.3 544.7,546.4 549.5,545.5 554.3,544.0 559.1,542.7 563.9,540.7 568.7,538.9 573.5,537.2 578.3,535.5 583.1,533.7 587.9,531.7 592.6,529.6 597.4,527.3 602.2,524.8 607.0,521.7 611.8,518.6 616.6,515.8 621.4,514.5 626.2,516.4 631.0,513.7 635.8,511.4 640.6,509.6 645.4,502.0" fill="none" stroke="#ff00ff" stroke-width="1.7" stroke-linejoin="round" stroke-linecap="round" />
<line x1="61" y1="55.0" x2="647.1" y2="55.0" stroke="#9aa8b4" stroke-width="2"/>
<line x1="646.1" y1="55.0" x2="646.1" y2="554" stroke="#aeb6bc" stroke-width="1.9"/>
<g font-family="'Liberation Sans', sans-serif" font-size="14" letter-spacing="-0.25" fill="#000">
<text x="49.3" y="558.3" text-anchor="end">0</text>
<text x="49.3" y="495.7" text-anchor="end">50</text>
<text x="49.3" y="433.7" text-anchor="end">100</text>
<text x="49.3" y="371.7" text-anchor="end">150</text>
<text x="49.3" y="309.7" text-anchor="end">200</text>
<text x="49.3" y="246.7" text-anchor="end">250</text>
<text x="49.3" y="184.7" text-anchor="end">300</text>
<text x="49.3" y="122.7" text-anchor="end">350</text>
<text x="49.3" y="60.7" text-anchor="end">400</text>
<text transform="translate(66.5,562.3) rotate(-90)" text-anchor="end">1899</text>
<text transform="translate(90.5,562.3) rotate(-90)" text-anchor="end">1904</text>
<text transform="translate(114.4,562.3) rotate(-90)" text-anchor="end">1909</text>
<text transform="translate(138.4,562.3) rotate(-90)" text-anchor="end">1914</text>
<text transform="translate(162.4,562.3) rotate(-90)" text-anchor="end">1919</text>
<text transform="translate(186.4,562.3) rotate(-90)" text-anchor="end">1924</text>
<text transform="translate(210.3,562.3) rotate(-90)" text-anchor="end">1929</text>
<text transform="translate(234.3,562.3) rotate(-90)" text-anchor="end">1934</text>
<text transform="translate(258.3,562.3) rotate(-90)" text-anchor="end">1939</text>
<text transform="translate(282.3,562.3) rotate(-90)" text-anchor="end">1944</text>
<text transform="translate(306.2,562.3) rotate(-90)" text-anchor="end">1949</text>
<text transform="translate(330.2,562.3) rotate(-90)" text-anchor="end">1954</text>
<text transform="translate(354.2,562.3) rotate(-90)" text-anchor="end">1959</text>
<text transform="translate(378.2,562.3) rotate(-90)" text-anchor="end">1964</text>
<text transform="translate(402.1,562.3) rotate(-90)" text-anchor="end">1969</text>
<text transform="translate(426.1,562.3) rotate(-90)" text-anchor="end">1974</text>
<text transform="translate(450.1,562.3) rotate(-90)" text-anchor="end">1979</text>
<text transform="translate(474.1,562.3) rotate(-90)" text-anchor="end">1984</text>
<text transform="translate(498.1,562.3) rotate(-90)" text-anchor="end">1989</text>
<text transform="translate(522.0,562.3) rotate(-90)" text-anchor="end">1994</text>
<text transform="translate(546.0,562.3) rotate(-90)" text-anchor="end">1999</text>
<text transform="translate(570.0,562.3) rotate(-90)" text-anchor="end">2004</text>
<text transform="translate(594.0,562.3) rotate(-90)" text-anchor="end">2009</text>
<text transform="translate(617.9,562.3) rotate(-90)" text-anchor="end">2014</text>
<text transform="translate(641.9,562.3) rotate(-90)" text-anchor="end">2019</text>
</g>
<g font-family="'Liberation Sans', 'IPAGothic', 'Noto Sans CJK JP', sans-serif" font-size="15.5" fill="#000">
<path d="M183.3 98.2H217.7Q221.2 98.2 221.2 101.7V117.5Q221.2 121.0 217.7 121.0H183.3Q179.8 121.0 179.8 117.5V118.5L158.6 130.8L179.8 111.5V101.7Q179.8 98.2 183.3 98.2Z" fill="#fff" stroke="#454545" stroke-width="1.4" stroke-linejoin="miter"/>
<text x="199.00" y="117.05" text-anchor="middle">肺炎</text>
<path d="M213.2 209.7H264.2Q267.7 209.7 267.7 213.2V229.6Q267.7 233.1 264.2 233.1H234.5L214.4 245.5L219.0 233.1H213.2Q209.7 233.1 209.7 229.6V213.2Q209.7 209.7 213.2 209.7Z" fill="#fff" stroke="#454545" stroke-width="1.4" stroke-linejoin="miter"/>
<text x="235.85" y="228.65" text-anchor="middle">胃腸炎</text>
<path d="M306.3 289.0H341.0Q344.5 289.0 344.5 292.5V309.0Q344.5 312.5 341.0 312.5H321.0L300.2 325.0L309.6 312.5H306.3Q302.8 312.5 302.8 309.0V292.5Q302.8 289.0 306.3 289.0Z" fill="#fff" stroke="#454545" stroke-width="1.4" stroke-linejoin="miter"/>
<text x="320.70" y="307.35" text-anchor="middle">結核</text>
<path d="M385.9 289.7H470.0Q473.5 289.7 473.5 293.2V309.6Q473.5 313.1 470.0 313.1H420.1L400.8 326.3L397.9 313.1H385.9Q382.4 313.1 382.4 309.6V293.2Q382.4 289.7 385.9 289.7Z" fill="#fff" stroke="#454545" stroke-width="1.4" stroke-linejoin="miter"/>
<text x="424.55" y="308.65" text-anchor="middle">脳血管疾患</text>
<path d="M561.1 156.5H589.3Q592.8 156.5 592.8 160.0V177.7Q592.8 181.2 589.3 181.2H589.0L591.1 196.7L577.6 181.2H561.1Q557.6 181.2 557.6 177.7V160.0Q557.6 156.5 561.1 156.5Z" fill="#fff" stroke="#454545" stroke-width="1.4" stroke-linejoin="miter"/>
<text x="575.55" y="174.85" text-anchor="middle">がん</text>
<path d="M557.4 312.8H608.0Q611.5 312.8 611.5 316.3V331.7Q611.5 335.2 608.0 335.2H602.2L601.1 349.0L586.0 335.2H557.4Q553.9 335.2 553.9 331.7V316.3Q553.9 312.8 557.4 312.8Z" fill="#fff" stroke="#454545" stroke-width="1.4" stroke-linejoin="miter"/>
<text x="580.40" y="331.25" text-anchor="middle">心疾患</text>
<path d="M599.8 385.7H633.5Q637.0 385.7 637.0 389.2V404.6Q637.0 408.1 633.5 408.1H614.2L615.6 426.7L603.2 408.1H599.8Q596.3 408.1 596.3 404.6V389.2Q596.3 385.7 599.8 385.7Z" fill="#fff" stroke="#454545" stroke-width="1.4" stroke-linejoin="miter"/>
<text x="615.50" y="404.25" text-anchor="middle">肺炎</text>
<path d="M414.2 464.9H489.0Q492.5 464.9 492.5 468.4V486.2Q492.5 489.7 489.0 489.7H446.0L418.0 501.7L424.2 489.7H414.2Q410.7 489.7 410.7 486.2V468.4Q410.7 464.9 414.2 464.9Z" fill="#fff" stroke="#454545" stroke-width="1.4" stroke-linejoin="miter"/>
<text x="452.65" y="484.35" text-anchor="middle">不慮の事故</text>
<path d="M552.5 473.8H586.9Q590.4 473.8 590.4 477.3V476.0L609.6 476.6L590.4 485.0V496.2Q590.4 499.7 586.9 499.7H552.5Q549.0 499.7 549.0 496.2V477.3Q549.0 473.8 552.5 473.8Z" fill="#fff" stroke="#454545" stroke-width="1.4" stroke-linejoin="miter"/>
<text x="569.30" y="492.75" text-anchor="middle">老衰</text>
<path d="M663.8 474.5H702.8Q709.8 474.5 709.8 481.5V513.9Q709.8 520.9 702.8 520.9H663.8Q656.8 520.9 656.8 513.9V515.0L649.1 502.6L656.8 501.1V481.5Q656.8 474.5 663.8 474.5Z" fill="#fff" stroke="#454545" stroke-width="1.4" stroke-linejoin="miter"/>
<text x="684.45" y="495.20" text-anchor="middle">誤嚥性</text>
<text x="662.30" y="515.20" text-anchor="start">肺炎</text>
<path d="M665.0 535.7H698.1Q702.1 535.7 702.1 539.7V554.8Q702.1 558.8 698.1 558.8H665.0Q661.0 558.8 661.0 554.8V546.5L649.1 532.2L661.0 538.4V539.7Q661.0 535.7 665.0 535.7Z" fill="#fff" stroke="#454545" stroke-width="1.4" stroke-linejoin="miter"/>
<text x="680.20" y="555.10" text-anchor="middle">自殺</text>
</g>
</svg>
<div class="t" id="title" style="left:3.19px;top:2.8px;transform:scale(1.0070,1)">主要死因別死亡率<span class="o">（</span>人口<span class="d">10</span>万人対<span class="c">）</span>の長期推移<span class="o">（</span><span class="d">1899</span>年～<span class="d">2021</span>年<span class="c">）</span></div>
<div class="n" id="n0" style="left:2.52px;top:624.0px;transform:scale(0.9889,1.050)"><span class="o">（</span>注<span class="c">）</span>災害<span class="c">、</span>事故などによる病気外の死因は<span class="o">「</span>自殺<span class="c">」</span>を除いて略<span class="c">。</span><span class="d">1994</span>年の心疾患の減少は<span class="c">、</span>新しい死亡診断書<span class="o">（</span>死</div>
<div class="n" id="n1" style="left:28.81px;top:642.4px;transform:scale(0.9923,1.050)">体検案書<span class="c">）</span><span class="o">（</span><span class="d">1995</span>年<span class="d">1</span>月<span class="d">1</span>日施行<span class="c">）</span>における<span class="o">「</span>死亡の原因欄には<span class="c">、</span>疾患の終末期の状態としての心不全<span class="c">、</span>呼吸不</div>
<div class="n" id="n2" style="left:28.86px;top:660.8px;transform:scale(0.9433,1.050)">全等は書かないでください<span class="c">」</span>という注意書きの事前周知の影響によるものと考えられる<span class="c">。</span><span class="d">2017</span>年の<span class="o">「</span>肺炎<span class="c">」</span>の低</div>
<div class="n" id="n3" style="left:28.82px;top:679.2px;transform:scale(0.9829,1.050)">下の主な要因は<span class="c">、</span><span class="d">ICD-10</span><span class="o">（</span><span class="d">2013</span>年版<span class="c">）</span><span class="o">（</span>平成<span class="d">29</span>年<span class="d">1</span>月適用<span class="c">）</span>による原死因選択ルールの明確化によるものと考</div>
<div class="n" id="n4" style="left:27.86px;top:697.6px;transform:scale(0.9688,1.050)">えられる<span class="c">。</span>最新年は概数</div>
<div class="n" id="n5" style="left:2.47px;top:716.0px;transform:scale(1.0136,1.050)"><span class="o">（</span>資料<span class="c">）</span>厚生労働省<span class="o">「</span>人口動態統計<span class="c">」</span></div>
</div></body></html>
